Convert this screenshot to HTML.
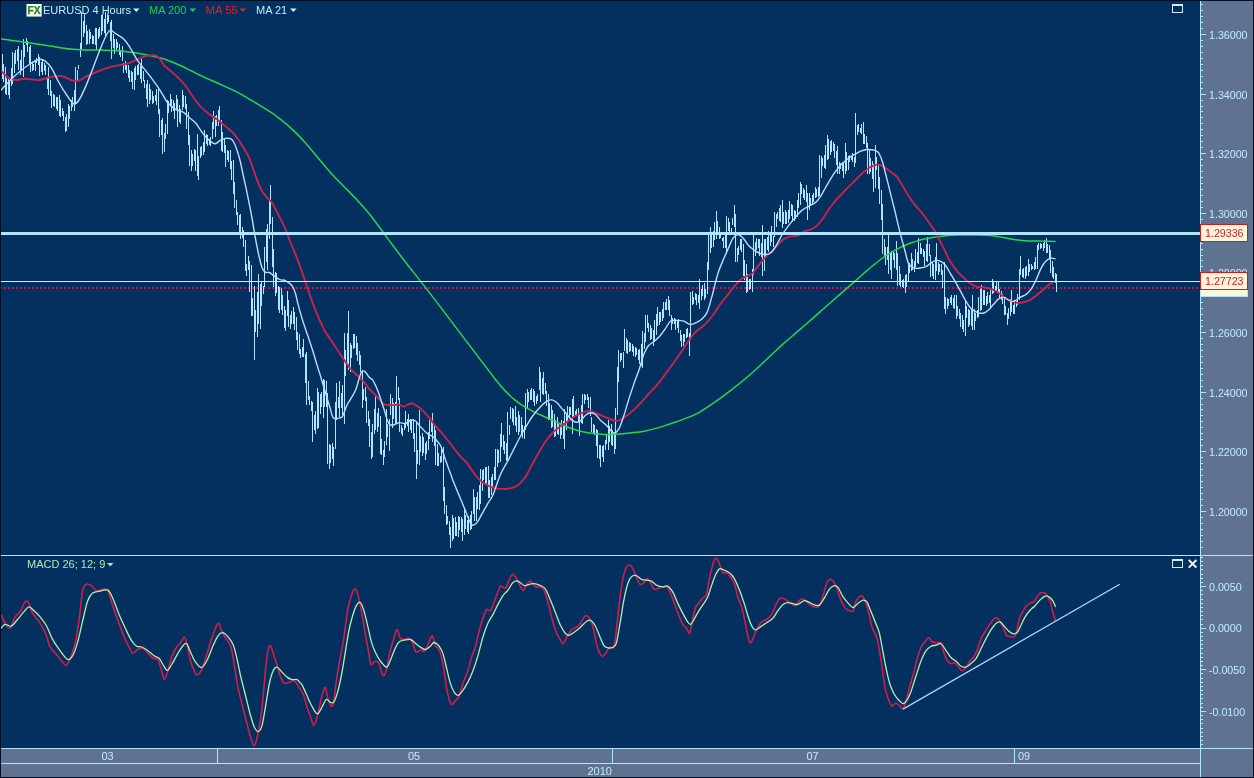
<!DOCTYPE html>
<html><head><meta charset="utf-8"><title>EURUSD 4 Hours</title>
<style>
html,body{margin:0;padding:0;background:#04305f;overflow:hidden}
body{width:1254px;height:778px;position:relative;font-family:"Liberation Sans",sans-serif}
</style></head><body>
<svg width="1254" height="778" viewBox="0 0 1254 778" style="position:absolute;left:0;top:0;display:block" font-family="'Liberation Sans', sans-serif">
<rect x="0" y="0" width="1254" height="778" fill="#000d2a"/>
<rect x="1" y="1" width="1199" height="747" fill="#04305f"/>
<rect x="1201" y="1" width="52" height="776" fill="#5f7391"/>
<rect x="1" y="749" width="1199" height="28" fill="#5f7391"/>
<defs><clipPath id="c1"><rect x="1" y="1" width="1199" height="554"/></clipPath><clipPath id="c2"><rect x="1" y="556" width="1199" height="192"/></clipPath></defs>
<g clip-path="url(#c1)">
<line x1="0" y1="288" x2="1200" y2="288" stroke="#c4104a" stroke-width="2.2" stroke-dasharray="2 2"/>
<g fill="#aee6ff" shape-rendering="crispEdges">
<rect x="2" y="54" width="1" height="25"/>
<rect x="3" y="64" width="1" height="18"/>
<rect x="5" y="67" width="1" height="27"/>
<rect x="6" y="78" width="1" height="17"/>
<rect x="8" y="79" width="1" height="16"/>
<rect x="9" y="82" width="1" height="17"/>
<rect x="11" y="68" width="1" height="18"/>
<rect x="12" y="52" width="1" height="32"/>
<rect x="14" y="53" width="1" height="20"/>
<rect x="15" y="50" width="1" height="14"/>
<rect x="17" y="49" width="1" height="12"/>
<rect x="18" y="46" width="1" height="24"/>
<rect x="20" y="60" width="1" height="15"/>
<rect x="21" y="50" width="1" height="21"/>
<rect x="23" y="39" width="1" height="38"/>
<rect x="24" y="45" width="1" height="12"/>
<rect x="26" y="38" width="1" height="7"/>
<rect x="27" y="41" width="1" height="11"/>
<rect x="29" y="47" width="1" height="17"/>
<rect x="30" y="45" width="1" height="27"/>
<rect x="32" y="63" width="1" height="8"/>
<rect x="33" y="64" width="1" height="6"/>
<rect x="35" y="60" width="1" height="11"/>
<rect x="36" y="58" width="1" height="5"/>
<rect x="38" y="54" width="1" height="11"/>
<rect x="39" y="57" width="1" height="19"/>
<rect x="41" y="62" width="1" height="10"/>
<rect x="42" y="59" width="1" height="16"/>
<rect x="44" y="63" width="1" height="8"/>
<rect x="45" y="65" width="1" height="10"/>
<rect x="47" y="77" width="1" height="12"/>
<rect x="48" y="67" width="1" height="28"/>
<rect x="50" y="80" width="1" height="16"/>
<rect x="51" y="91" width="1" height="17"/>
<rect x="53" y="94" width="1" height="12"/>
<rect x="54" y="95" width="1" height="12"/>
<rect x="56" y="97" width="1" height="12"/>
<rect x="57" y="97" width="1" height="14"/>
<rect x="59" y="95" width="1" height="21"/>
<rect x="60" y="100" width="1" height="17"/>
<rect x="62" y="108" width="1" height="8"/>
<rect x="63" y="111" width="1" height="10"/>
<rect x="65" y="117" width="1" height="15"/>
<rect x="66" y="114" width="1" height="17"/>
<rect x="68" y="104" width="1" height="23"/>
<rect x="69" y="106" width="1" height="13"/>
<rect x="71" y="100" width="1" height="11"/>
<rect x="72" y="97" width="1" height="10"/>
<rect x="74" y="90" width="1" height="21"/>
<rect x="75" y="67" width="1" height="37"/>
<rect x="77" y="70" width="1" height="10"/>
<rect x="78" y="65" width="1" height="4"/>
<rect x="80" y="43" width="1" height="14"/>
<rect x="81" y="12" width="1" height="37"/>
<rect x="83" y="21" width="1" height="16"/>
<rect x="84" y="13" width="1" height="20"/>
<rect x="86" y="25" width="1" height="20"/>
<rect x="87" y="31" width="1" height="13"/>
<rect x="89" y="29" width="1" height="15"/>
<rect x="90" y="32" width="1" height="7"/>
<rect x="92" y="35" width="1" height="9"/>
<rect x="93" y="36" width="1" height="8"/>
<rect x="95" y="28" width="1" height="17"/>
<rect x="96" y="28" width="1" height="22"/>
<rect x="98" y="29" width="1" height="10"/>
<rect x="99" y="27" width="1" height="10"/>
<rect x="101" y="15" width="1" height="20"/>
<rect x="102" y="14" width="1" height="17"/>
<rect x="104" y="19" width="1" height="14"/>
<rect x="105" y="12" width="1" height="24"/>
<rect x="107" y="14" width="1" height="10"/>
<rect x="108" y="15" width="1" height="7"/>
<rect x="110" y="22" width="1" height="19"/>
<rect x="111" y="20" width="1" height="39"/>
<rect x="113" y="34" width="1" height="14"/>
<rect x="114" y="39" width="1" height="15"/>
<rect x="116" y="39" width="1" height="11"/>
<rect x="117" y="42" width="1" height="6"/>
<rect x="119" y="44" width="1" height="11"/>
<rect x="120" y="50" width="1" height="7"/>
<rect x="122" y="46" width="1" height="15"/>
<rect x="123" y="63" width="1" height="10"/>
<rect x="125" y="61" width="1" height="9"/>
<rect x="126" y="65" width="1" height="8"/>
<rect x="128" y="65" width="1" height="13"/>
<rect x="129" y="70" width="1" height="12"/>
<rect x="131" y="71" width="1" height="11"/>
<rect x="132" y="72" width="1" height="17"/>
<rect x="134" y="68" width="1" height="22"/>
<rect x="135" y="66" width="1" height="14"/>
<rect x="137" y="65" width="1" height="10"/>
<rect x="138" y="64" width="1" height="11"/>
<rect x="140" y="66" width="1" height="13"/>
<rect x="141" y="59" width="1" height="24"/>
<rect x="143" y="71" width="1" height="10"/>
<rect x="144" y="80" width="1" height="8"/>
<rect x="146" y="84" width="1" height="15"/>
<rect x="147" y="80" width="1" height="27"/>
<rect x="149" y="84" width="1" height="20"/>
<rect x="150" y="89" width="1" height="11"/>
<rect x="152" y="91" width="1" height="13"/>
<rect x="153" y="96" width="1" height="7"/>
<rect x="155" y="95" width="1" height="6"/>
<rect x="156" y="89" width="1" height="16"/>
<rect x="158" y="88" width="1" height="26"/>
<rect x="159" y="109" width="1" height="28"/>
<rect x="161" y="120" width="1" height="15"/>
<rect x="162" y="118" width="1" height="36"/>
<rect x="164" y="133" width="1" height="19"/>
<rect x="165" y="124" width="1" height="15"/>
<rect x="167" y="100" width="1" height="34"/>
<rect x="168" y="101" width="1" height="12"/>
<rect x="170" y="94" width="1" height="12"/>
<rect x="171" y="99" width="1" height="13"/>
<rect x="173" y="100" width="1" height="11"/>
<rect x="174" y="103" width="1" height="16"/>
<rect x="176" y="95" width="1" height="14"/>
<rect x="177" y="99" width="1" height="28"/>
<rect x="179" y="105" width="1" height="17"/>
<rect x="180" y="109" width="1" height="15"/>
<rect x="182" y="90" width="1" height="20"/>
<rect x="183" y="95" width="1" height="12"/>
<rect x="185" y="96" width="1" height="13"/>
<rect x="186" y="104" width="1" height="25"/>
<rect x="188" y="112" width="1" height="33"/>
<rect x="189" y="135" width="1" height="31"/>
<rect x="191" y="150" width="1" height="21"/>
<rect x="192" y="154" width="1" height="12"/>
<rect x="194" y="149" width="1" height="12"/>
<rect x="195" y="150" width="1" height="21"/>
<rect x="197" y="134" width="1" height="42"/>
<rect x="198" y="156" width="1" height="24"/>
<rect x="200" y="147" width="1" height="11"/>
<rect x="201" y="146" width="1" height="10"/>
<rect x="203" y="142" width="1" height="13"/>
<rect x="204" y="130" width="1" height="22"/>
<rect x="206" y="134" width="1" height="10"/>
<rect x="207" y="135" width="1" height="11"/>
<rect x="209" y="139" width="1" height="6"/>
<rect x="210" y="137" width="1" height="9"/>
<rect x="212" y="122" width="1" height="17"/>
<rect x="213" y="111" width="1" height="18"/>
<rect x="215" y="116" width="1" height="21"/>
<rect x="216" y="115" width="1" height="11"/>
<rect x="218" y="110" width="1" height="16"/>
<rect x="219" y="106" width="1" height="16"/>
<rect x="221" y="120" width="1" height="31"/>
<rect x="222" y="132" width="1" height="20"/>
<rect x="224" y="139" width="1" height="14"/>
<rect x="225" y="145" width="1" height="22"/>
<rect x="227" y="150" width="1" height="10"/>
<rect x="228" y="151" width="1" height="11"/>
<rect x="230" y="150" width="1" height="19"/>
<rect x="231" y="161" width="1" height="19"/>
<rect x="233" y="160" width="1" height="34"/>
<rect x="234" y="182" width="1" height="26"/>
<rect x="236" y="200" width="1" height="15"/>
<rect x="237" y="212" width="1" height="13"/>
<rect x="239" y="215" width="1" height="17"/>
<rect x="240" y="214" width="1" height="25"/>
<rect x="242" y="227" width="1" height="11"/>
<rect x="243" y="230" width="1" height="17"/>
<rect x="245" y="240" width="1" height="31"/>
<rect x="246" y="264" width="1" height="12"/>
<rect x="248" y="256" width="1" height="14"/>
<rect x="249" y="261" width="1" height="31"/>
<rect x="251" y="265" width="1" height="51"/>
<rect x="252" y="298" width="1" height="18"/>
<rect x="254" y="286" width="1" height="74"/>
<rect x="255" y="310" width="1" height="22"/>
<rect x="257" y="292" width="1" height="45"/>
<rect x="258" y="274" width="1" height="50"/>
<rect x="260" y="284" width="1" height="45"/>
<rect x="261" y="282" width="1" height="24"/>
<rect x="263" y="286" width="1" height="8"/>
<rect x="264" y="247" width="1" height="40"/>
<rect x="266" y="229" width="1" height="33"/>
<rect x="267" y="224" width="1" height="46"/>
<rect x="269" y="200" width="1" height="39"/>
<rect x="270" y="185" width="1" height="39"/>
<rect x="272" y="217" width="1" height="50"/>
<rect x="273" y="249" width="1" height="38"/>
<rect x="275" y="272" width="1" height="24"/>
<rect x="276" y="273" width="1" height="20"/>
<rect x="278" y="286" width="1" height="24"/>
<rect x="279" y="287" width="1" height="26"/>
<rect x="281" y="288" width="1" height="22"/>
<rect x="282" y="295" width="1" height="20"/>
<rect x="284" y="306" width="1" height="22"/>
<rect x="285" y="310" width="1" height="21"/>
<rect x="287" y="291" width="1" height="25"/>
<rect x="288" y="300" width="1" height="27"/>
<rect x="290" y="315" width="1" height="14"/>
<rect x="291" y="311" width="1" height="13"/>
<rect x="293" y="307" width="1" height="17"/>
<rect x="294" y="312" width="1" height="18"/>
<rect x="296" y="317" width="1" height="23"/>
<rect x="297" y="332" width="1" height="18"/>
<rect x="299" y="334" width="1" height="20"/>
<rect x="300" y="349" width="1" height="9"/>
<rect x="302" y="347" width="1" height="10"/>
<rect x="303" y="339" width="1" height="18"/>
<rect x="305" y="354" width="1" height="29"/>
<rect x="306" y="352" width="1" height="53"/>
<rect x="308" y="381" width="1" height="19"/>
<rect x="309" y="396" width="1" height="9"/>
<rect x="311" y="401" width="1" height="10"/>
<rect x="312" y="402" width="1" height="40"/>
<rect x="314" y="415" width="1" height="15"/>
<rect x="315" y="411" width="1" height="23"/>
<rect x="317" y="388" width="1" height="41"/>
<rect x="318" y="392" width="1" height="36"/>
<rect x="320" y="394" width="1" height="20"/>
<rect x="321" y="392" width="1" height="15"/>
<rect x="323" y="379" width="1" height="39"/>
<rect x="324" y="380" width="1" height="27"/>
<rect x="326" y="381" width="1" height="26"/>
<rect x="327" y="393" width="1" height="71"/>
<rect x="329" y="444" width="1" height="25"/>
<rect x="330" y="445" width="1" height="18"/>
<rect x="332" y="443" width="1" height="16"/>
<rect x="333" y="447" width="1" height="19"/>
<rect x="335" y="402" width="1" height="47"/>
<rect x="336" y="383" width="1" height="37"/>
<rect x="338" y="397" width="1" height="11"/>
<rect x="339" y="381" width="1" height="36"/>
<rect x="341" y="393" width="1" height="15"/>
<rect x="342" y="385" width="1" height="31"/>
<rect x="344" y="333" width="1" height="91"/>
<rect x="345" y="350" width="1" height="26"/>
<rect x="347" y="333" width="1" height="31"/>
<rect x="348" y="311" width="1" height="59"/>
<rect x="350" y="343" width="1" height="29"/>
<rect x="351" y="345" width="1" height="13"/>
<rect x="353" y="334" width="1" height="15"/>
<rect x="354" y="334" width="1" height="14"/>
<rect x="356" y="336" width="1" height="19"/>
<rect x="357" y="343" width="1" height="18"/>
<rect x="359" y="351" width="1" height="14"/>
<rect x="360" y="355" width="1" height="17"/>
<rect x="362" y="370" width="1" height="38"/>
<rect x="363" y="389" width="1" height="11"/>
<rect x="365" y="387" width="1" height="14"/>
<rect x="366" y="397" width="1" height="26"/>
<rect x="368" y="411" width="1" height="15"/>
<rect x="369" y="419" width="1" height="28"/>
<rect x="371" y="432" width="1" height="27"/>
<rect x="372" y="424" width="1" height="33"/>
<rect x="374" y="409" width="1" height="25"/>
<rect x="375" y="395" width="1" height="35"/>
<rect x="377" y="413" width="1" height="19"/>
<rect x="378" y="408" width="1" height="19"/>
<rect x="380" y="416" width="1" height="38"/>
<rect x="381" y="439" width="1" height="16"/>
<rect x="383" y="450" width="1" height="15"/>
<rect x="384" y="441" width="1" height="16"/>
<rect x="386" y="409" width="1" height="36"/>
<rect x="387" y="424" width="1" height="13"/>
<rect x="389" y="419" width="1" height="32"/>
<rect x="390" y="394" width="1" height="21"/>
<rect x="392" y="398" width="1" height="30"/>
<rect x="393" y="403" width="1" height="16"/>
<rect x="395" y="402" width="1" height="22"/>
<rect x="396" y="376" width="1" height="47"/>
<rect x="398" y="387" width="1" height="13"/>
<rect x="399" y="398" width="1" height="34"/>
<rect x="401" y="425" width="1" height="9"/>
<rect x="402" y="428" width="1" height="8"/>
<rect x="404" y="423" width="1" height="7"/>
<rect x="405" y="411" width="1" height="17"/>
<rect x="407" y="419" width="1" height="7"/>
<rect x="408" y="414" width="1" height="18"/>
<rect x="410" y="419" width="1" height="11"/>
<rect x="411" y="420" width="1" height="13"/>
<rect x="413" y="419" width="1" height="20"/>
<rect x="414" y="433" width="1" height="19"/>
<rect x="416" y="422" width="1" height="57"/>
<rect x="417" y="450" width="1" height="14"/>
<rect x="419" y="410" width="1" height="55"/>
<rect x="420" y="436" width="1" height="16"/>
<rect x="422" y="433" width="1" height="23"/>
<rect x="423" y="437" width="1" height="16"/>
<rect x="425" y="443" width="1" height="17"/>
<rect x="426" y="441" width="1" height="13"/>
<rect x="428" y="432" width="1" height="18"/>
<rect x="429" y="420" width="1" height="19"/>
<rect x="431" y="420" width="1" height="12"/>
<rect x="432" y="413" width="1" height="29"/>
<rect x="434" y="424" width="1" height="22"/>
<rect x="435" y="430" width="1" height="35"/>
<rect x="437" y="444" width="1" height="22"/>
<rect x="438" y="453" width="1" height="13"/>
<rect x="440" y="456" width="1" height="7"/>
<rect x="441" y="447" width="1" height="15"/>
<rect x="443" y="447" width="1" height="54"/>
<rect x="444" y="487" width="1" height="27"/>
<rect x="446" y="505" width="1" height="20"/>
<rect x="447" y="516" width="1" height="8"/>
<rect x="449" y="521" width="1" height="14"/>
<rect x="450" y="527" width="1" height="21"/>
<rect x="452" y="515" width="1" height="26"/>
<rect x="453" y="518" width="1" height="21"/>
<rect x="455" y="517" width="1" height="19"/>
<rect x="456" y="522" width="1" height="14"/>
<rect x="458" y="516" width="1" height="21"/>
<rect x="459" y="517" width="1" height="13"/>
<rect x="461" y="517" width="1" height="15"/>
<rect x="462" y="519" width="1" height="22"/>
<rect x="464" y="509" width="1" height="26"/>
<rect x="465" y="515" width="1" height="14"/>
<rect x="467" y="520" width="1" height="12"/>
<rect x="468" y="516" width="1" height="18"/>
<rect x="470" y="515" width="1" height="15"/>
<rect x="471" y="511" width="1" height="18"/>
<rect x="473" y="489" width="1" height="25"/>
<rect x="474" y="497" width="1" height="24"/>
<rect x="476" y="497" width="1" height="24"/>
<rect x="477" y="492" width="1" height="17"/>
<rect x="479" y="485" width="1" height="25"/>
<rect x="480" y="469" width="1" height="35"/>
<rect x="482" y="470" width="1" height="21"/>
<rect x="483" y="469" width="1" height="11"/>
<rect x="485" y="467" width="1" height="17"/>
<rect x="486" y="467" width="1" height="18"/>
<rect x="488" y="466" width="1" height="32"/>
<rect x="489" y="480" width="1" height="18"/>
<rect x="491" y="477" width="1" height="18"/>
<rect x="492" y="474" width="1" height="14"/>
<rect x="494" y="467" width="1" height="13"/>
<rect x="495" y="449" width="1" height="31"/>
<rect x="497" y="449" width="1" height="18"/>
<rect x="498" y="450" width="1" height="13"/>
<rect x="500" y="434" width="1" height="28"/>
<rect x="501" y="423" width="1" height="24"/>
<rect x="503" y="435" width="1" height="15"/>
<rect x="504" y="441" width="1" height="13"/>
<rect x="506" y="443" width="1" height="18"/>
<rect x="507" y="412" width="1" height="48"/>
<rect x="509" y="425" width="1" height="10"/>
<rect x="510" y="407" width="1" height="12"/>
<rect x="512" y="408" width="1" height="14"/>
<rect x="513" y="409" width="1" height="16"/>
<rect x="515" y="406" width="1" height="20"/>
<rect x="516" y="417" width="1" height="15"/>
<rect x="518" y="411" width="1" height="24"/>
<rect x="519" y="415" width="1" height="17"/>
<rect x="521" y="417" width="1" height="17"/>
<rect x="522" y="425" width="1" height="13"/>
<rect x="524" y="426" width="1" height="13"/>
<rect x="525" y="393" width="1" height="37"/>
<rect x="527" y="389" width="1" height="20"/>
<rect x="528" y="392" width="1" height="10"/>
<rect x="530" y="390" width="1" height="10"/>
<rect x="531" y="388" width="1" height="12"/>
<rect x="533" y="389" width="1" height="13"/>
<rect x="534" y="391" width="1" height="15"/>
<rect x="536" y="396" width="1" height="8"/>
<rect x="537" y="394" width="1" height="7"/>
<rect x="539" y="367" width="1" height="23"/>
<rect x="540" y="372" width="1" height="30"/>
<rect x="542" y="378" width="1" height="16"/>
<rect x="543" y="372" width="1" height="23"/>
<rect x="545" y="383" width="1" height="11"/>
<rect x="546" y="391" width="1" height="15"/>
<rect x="548" y="394" width="1" height="26"/>
<rect x="549" y="403" width="1" height="17"/>
<rect x="551" y="405" width="1" height="23"/>
<rect x="552" y="410" width="1" height="17"/>
<rect x="554" y="414" width="1" height="23"/>
<rect x="555" y="420" width="1" height="16"/>
<rect x="557" y="417" width="1" height="17"/>
<rect x="558" y="424" width="1" height="11"/>
<rect x="560" y="423" width="1" height="16"/>
<rect x="561" y="420" width="1" height="15"/>
<rect x="563" y="421" width="1" height="18"/>
<rect x="564" y="409" width="1" height="40"/>
<rect x="566" y="414" width="1" height="16"/>
<rect x="567" y="406" width="1" height="16"/>
<rect x="569" y="407" width="1" height="11"/>
<rect x="570" y="407" width="1" height="8"/>
<rect x="572" y="399" width="1" height="35"/>
<rect x="573" y="396" width="1" height="20"/>
<rect x="575" y="411" width="1" height="5"/>
<rect x="576" y="409" width="1" height="7"/>
<rect x="578" y="408" width="1" height="14"/>
<rect x="579" y="414" width="1" height="22"/>
<rect x="581" y="405" width="1" height="18"/>
<rect x="582" y="394" width="1" height="30"/>
<rect x="584" y="394" width="1" height="10"/>
<rect x="585" y="395" width="1" height="5"/>
<rect x="587" y="394" width="1" height="6"/>
<rect x="588" y="397" width="1" height="11"/>
<rect x="590" y="397" width="1" height="19"/>
<rect x="591" y="417" width="1" height="15"/>
<rect x="593" y="424" width="1" height="9"/>
<rect x="594" y="425" width="1" height="10"/>
<rect x="596" y="429" width="1" height="17"/>
<rect x="597" y="430" width="1" height="28"/>
<rect x="599" y="445" width="1" height="14"/>
<rect x="600" y="445" width="1" height="22"/>
<rect x="602" y="446" width="1" height="11"/>
<rect x="603" y="445" width="1" height="17"/>
<rect x="605" y="440" width="1" height="10"/>
<rect x="606" y="434" width="1" height="10"/>
<rect x="608" y="420" width="1" height="30"/>
<rect x="609" y="426" width="1" height="16"/>
<rect x="611" y="424" width="1" height="21"/>
<rect x="612" y="430" width="1" height="16"/>
<rect x="614" y="435" width="1" height="19"/>
<rect x="615" y="408" width="1" height="41"/>
<rect x="617" y="367" width="1" height="48"/>
<rect x="618" y="350" width="1" height="32"/>
<rect x="620" y="353" width="1" height="9"/>
<rect x="621" y="353" width="1" height="7"/>
<rect x="623" y="352" width="1" height="16"/>
<rect x="624" y="329" width="1" height="22"/>
<rect x="626" y="338" width="1" height="15"/>
<rect x="627" y="340" width="1" height="14"/>
<rect x="629" y="342" width="1" height="10"/>
<rect x="630" y="343" width="1" height="8"/>
<rect x="632" y="344" width="1" height="8"/>
<rect x="633" y="346" width="1" height="10"/>
<rect x="635" y="347" width="1" height="10"/>
<rect x="636" y="348" width="1" height="7"/>
<rect x="638" y="350" width="1" height="10"/>
<rect x="639" y="349" width="1" height="15"/>
<rect x="641" y="344" width="1" height="22"/>
<rect x="642" y="331" width="1" height="37"/>
<rect x="644" y="333" width="1" height="16"/>
<rect x="645" y="315" width="1" height="27"/>
<rect x="647" y="315" width="1" height="13"/>
<rect x="648" y="323" width="1" height="9"/>
<rect x="650" y="325" width="1" height="15"/>
<rect x="651" y="328" width="1" height="11"/>
<rect x="653" y="330" width="1" height="16"/>
<rect x="654" y="320" width="1" height="22"/>
<rect x="656" y="314" width="1" height="21"/>
<rect x="657" y="307" width="1" height="19"/>
<rect x="659" y="312" width="1" height="13"/>
<rect x="660" y="312" width="1" height="10"/>
<rect x="662" y="309" width="1" height="12"/>
<rect x="663" y="302" width="1" height="16"/>
<rect x="665" y="302" width="1" height="8"/>
<rect x="666" y="299" width="1" height="11"/>
<rect x="668" y="296" width="1" height="14"/>
<rect x="669" y="300" width="1" height="16"/>
<rect x="671" y="315" width="1" height="15"/>
<rect x="672" y="318" width="1" height="6"/>
<rect x="674" y="318" width="1" height="6"/>
<rect x="675" y="319" width="1" height="11"/>
<rect x="677" y="320" width="1" height="8"/>
<rect x="678" y="319" width="1" height="14"/>
<rect x="680" y="330" width="1" height="11"/>
<rect x="681" y="335" width="1" height="12"/>
<rect x="683" y="334" width="1" height="12"/>
<rect x="684" y="334" width="1" height="8"/>
<rect x="686" y="329" width="1" height="9"/>
<rect x="687" y="328" width="1" height="9"/>
<rect x="689" y="333" width="1" height="23"/>
<rect x="690" y="292" width="1" height="48"/>
<rect x="692" y="291" width="1" height="14"/>
<rect x="693" y="297" width="1" height="7"/>
<rect x="695" y="293" width="1" height="7"/>
<rect x="696" y="294" width="1" height="11"/>
<rect x="698" y="295" width="1" height="8"/>
<rect x="699" y="279" width="1" height="30"/>
<rect x="701" y="289" width="1" height="11"/>
<rect x="702" y="285" width="1" height="11"/>
<rect x="704" y="283" width="1" height="17"/>
<rect x="705" y="289" width="1" height="9"/>
<rect x="707" y="262" width="1" height="32"/>
<rect x="708" y="233" width="1" height="37"/>
<rect x="710" y="227" width="1" height="26"/>
<rect x="711" y="233" width="1" height="15"/>
<rect x="713" y="231" width="1" height="16"/>
<rect x="714" y="222" width="1" height="18"/>
<rect x="716" y="211" width="1" height="28"/>
<rect x="717" y="221" width="1" height="11"/>
<rect x="719" y="227" width="1" height="12"/>
<rect x="720" y="234" width="1" height="4"/>
<rect x="722" y="238" width="1" height="3"/>
<rect x="723" y="237" width="1" height="11"/>
<rect x="725" y="233" width="1" height="15"/>
<rect x="726" y="216" width="1" height="38"/>
<rect x="728" y="218" width="1" height="13"/>
<rect x="729" y="222" width="1" height="10"/>
<rect x="731" y="228" width="1" height="7"/>
<rect x="732" y="218" width="1" height="7"/>
<rect x="734" y="205" width="1" height="22"/>
<rect x="735" y="214" width="1" height="48"/>
<rect x="737" y="248" width="1" height="14"/>
<rect x="738" y="246" width="1" height="9"/>
<rect x="740" y="239" width="1" height="11"/>
<rect x="741" y="239" width="1" height="13"/>
<rect x="743" y="244" width="1" height="32"/>
<rect x="744" y="260" width="1" height="20"/>
<rect x="746" y="264" width="1" height="29"/>
<rect x="747" y="274" width="1" height="18"/>
<rect x="749" y="279" width="1" height="11"/>
<rect x="750" y="279" width="1" height="10"/>
<rect x="752" y="269" width="1" height="23"/>
<rect x="753" y="235" width="1" height="40"/>
<rect x="755" y="242" width="1" height="14"/>
<rect x="756" y="238" width="1" height="12"/>
<rect x="758" y="239" width="1" height="9"/>
<rect x="759" y="239" width="1" height="17"/>
<rect x="761" y="243" width="1" height="14"/>
<rect x="762" y="225" width="1" height="51"/>
<rect x="764" y="239" width="1" height="32"/>
<rect x="765" y="239" width="1" height="18"/>
<rect x="767" y="237" width="1" height="13"/>
<rect x="768" y="231" width="1" height="21"/>
<rect x="770" y="232" width="1" height="14"/>
<rect x="771" y="226" width="1" height="16"/>
<rect x="773" y="236" width="1" height="11"/>
<rect x="774" y="212" width="1" height="25"/>
<rect x="776" y="214" width="1" height="13"/>
<rect x="777" y="212" width="1" height="7"/>
<rect x="779" y="208" width="1" height="13"/>
<rect x="780" y="205" width="1" height="17"/>
<rect x="782" y="200" width="1" height="28"/>
<rect x="783" y="212" width="1" height="12"/>
<rect x="785" y="210" width="1" height="14"/>
<rect x="786" y="212" width="1" height="12"/>
<rect x="788" y="210" width="1" height="13"/>
<rect x="789" y="201" width="1" height="18"/>
<rect x="791" y="204" width="1" height="12"/>
<rect x="792" y="205" width="1" height="17"/>
<rect x="794" y="210" width="1" height="11"/>
<rect x="795" y="211" width="1" height="8"/>
<rect x="797" y="200" width="1" height="17"/>
<rect x="798" y="193" width="1" height="15"/>
<rect x="800" y="182" width="1" height="23"/>
<rect x="801" y="184" width="1" height="10"/>
<rect x="803" y="188" width="1" height="10"/>
<rect x="804" y="190" width="1" height="10"/>
<rect x="806" y="185" width="1" height="17"/>
<rect x="807" y="193" width="1" height="27"/>
<rect x="809" y="193" width="1" height="17"/>
<rect x="810" y="198" width="1" height="8"/>
<rect x="812" y="195" width="1" height="9"/>
<rect x="813" y="193" width="1" height="9"/>
<rect x="815" y="187" width="1" height="11"/>
<rect x="816" y="189" width="1" height="8"/>
<rect x="818" y="187" width="1" height="10"/>
<rect x="819" y="155" width="1" height="41"/>
<rect x="821" y="156" width="1" height="22"/>
<rect x="822" y="158" width="1" height="8"/>
<rect x="824" y="155" width="1" height="13"/>
<rect x="825" y="145" width="1" height="24"/>
<rect x="827" y="135" width="1" height="25"/>
<rect x="828" y="139" width="1" height="20"/>
<rect x="830" y="141" width="1" height="14"/>
<rect x="831" y="140" width="1" height="12"/>
<rect x="833" y="142" width="1" height="9"/>
<rect x="834" y="144" width="1" height="14"/>
<rect x="836" y="151" width="1" height="14"/>
<rect x="837" y="146" width="1" height="28"/>
<rect x="839" y="162" width="1" height="12"/>
<rect x="840" y="163" width="1" height="6"/>
<rect x="842" y="162" width="1" height="9"/>
<rect x="843" y="162" width="1" height="16"/>
<rect x="845" y="143" width="1" height="31"/>
<rect x="846" y="152" width="1" height="19"/>
<rect x="848" y="156" width="1" height="14"/>
<rect x="849" y="155" width="1" height="7"/>
<rect x="851" y="156" width="1" height="4"/>
<rect x="852" y="153" width="1" height="9"/>
<rect x="854" y="157" width="1" height="10"/>
<rect x="855" y="113" width="1" height="50"/>
<rect x="857" y="125" width="1" height="10"/>
<rect x="858" y="124" width="1" height="8"/>
<rect x="860" y="128" width="1" height="5"/>
<rect x="861" y="124" width="1" height="10"/>
<rect x="863" y="122" width="1" height="22"/>
<rect x="864" y="134" width="1" height="10"/>
<rect x="866" y="136" width="1" height="12"/>
<rect x="867" y="143" width="1" height="31"/>
<rect x="869" y="149" width="1" height="25"/>
<rect x="870" y="158" width="1" height="14"/>
<rect x="872" y="161" width="1" height="18"/>
<rect x="873" y="164" width="1" height="28"/>
<rect x="875" y="145" width="1" height="43"/>
<rect x="876" y="157" width="1" height="13"/>
<rect x="878" y="165" width="1" height="24"/>
<rect x="879" y="177" width="1" height="27"/>
<rect x="881" y="190" width="1" height="30"/>
<rect x="882" y="204" width="1" height="50"/>
<rect x="884" y="239" width="1" height="17"/>
<rect x="885" y="247" width="1" height="18"/>
<rect x="887" y="247" width="1" height="13"/>
<rect x="888" y="235" width="1" height="39"/>
<rect x="890" y="252" width="1" height="18"/>
<rect x="891" y="251" width="1" height="28"/>
<rect x="893" y="252" width="1" height="8"/>
<rect x="894" y="253" width="1" height="15"/>
<rect x="896" y="241" width="1" height="29"/>
<rect x="897" y="253" width="1" height="33"/>
<rect x="899" y="266" width="1" height="19"/>
<rect x="900" y="274" width="1" height="13"/>
<rect x="902" y="280" width="1" height="7"/>
<rect x="903" y="279" width="1" height="9"/>
<rect x="905" y="275" width="1" height="18"/>
<rect x="906" y="274" width="1" height="13"/>
<rect x="908" y="262" width="1" height="19"/>
<rect x="909" y="263" width="1" height="10"/>
<rect x="911" y="253" width="1" height="18"/>
<rect x="912" y="259" width="1" height="11"/>
<rect x="914" y="261" width="1" height="11"/>
<rect x="915" y="249" width="1" height="18"/>
<rect x="917" y="252" width="1" height="11"/>
<rect x="918" y="238" width="1" height="26"/>
<rect x="920" y="243" width="1" height="11"/>
<rect x="921" y="248" width="1" height="6"/>
<rect x="923" y="249" width="1" height="8"/>
<rect x="924" y="251" width="1" height="15"/>
<rect x="926" y="244" width="1" height="17"/>
<rect x="927" y="237" width="1" height="25"/>
<rect x="929" y="244" width="1" height="12"/>
<rect x="930" y="255" width="1" height="22"/>
<rect x="932" y="263" width="1" height="13"/>
<rect x="933" y="264" width="1" height="15"/>
<rect x="935" y="257" width="1" height="23"/>
<rect x="936" y="243" width="1" height="28"/>
<rect x="938" y="262" width="1" height="13"/>
<rect x="939" y="264" width="1" height="8"/>
<rect x="941" y="264" width="1" height="11"/>
<rect x="942" y="270" width="1" height="18"/>
<rect x="944" y="262" width="1" height="47"/>
<rect x="945" y="297" width="1" height="17"/>
<rect x="947" y="298" width="1" height="11"/>
<rect x="948" y="299" width="1" height="7"/>
<rect x="950" y="297" width="1" height="6"/>
<rect x="951" y="295" width="1" height="10"/>
<rect x="953" y="298" width="1" height="10"/>
<rect x="954" y="295" width="1" height="14"/>
<rect x="956" y="295" width="1" height="24"/>
<rect x="957" y="306" width="1" height="10"/>
<rect x="959" y="309" width="1" height="10"/>
<rect x="960" y="313" width="1" height="14"/>
<rect x="962" y="315" width="1" height="14"/>
<rect x="963" y="320" width="1" height="12"/>
<rect x="965" y="300" width="1" height="36"/>
<rect x="966" y="306" width="1" height="12"/>
<rect x="968" y="309" width="1" height="18"/>
<rect x="969" y="310" width="1" height="15"/>
<rect x="971" y="309" width="1" height="17"/>
<rect x="972" y="295" width="1" height="35"/>
<rect x="974" y="309" width="1" height="21"/>
<rect x="975" y="313" width="1" height="8"/>
<rect x="977" y="310" width="1" height="8"/>
<rect x="978" y="297" width="1" height="20"/>
<rect x="980" y="289" width="1" height="22"/>
<rect x="981" y="285" width="1" height="25"/>
<rect x="983" y="290" width="1" height="15"/>
<rect x="984" y="290" width="1" height="15"/>
<rect x="986" y="296" width="1" height="10"/>
<rect x="987" y="292" width="1" height="12"/>
<rect x="989" y="295" width="1" height="8"/>
<rect x="990" y="290" width="1" height="19"/>
<rect x="992" y="279" width="1" height="15"/>
<rect x="993" y="282" width="1" height="11"/>
<rect x="995" y="286" width="1" height="6"/>
<rect x="996" y="282" width="1" height="9"/>
<rect x="998" y="282" width="1" height="12"/>
<rect x="999" y="289" width="1" height="10"/>
<rect x="1001" y="291" width="1" height="9"/>
<rect x="1002" y="294" width="1" height="10"/>
<rect x="1004" y="298" width="1" height="17"/>
<rect x="1005" y="306" width="1" height="9"/>
<rect x="1007" y="313" width="1" height="12"/>
<rect x="1008" y="308" width="1" height="11"/>
<rect x="1010" y="299" width="1" height="17"/>
<rect x="1011" y="290" width="1" height="22"/>
<rect x="1013" y="305" width="1" height="9"/>
<rect x="1014" y="300" width="1" height="14"/>
<rect x="1016" y="301" width="1" height="6"/>
<rect x="1017" y="294" width="1" height="11"/>
<rect x="1019" y="269" width="1" height="31"/>
<rect x="1020" y="256" width="1" height="19"/>
<rect x="1022" y="269" width="1" height="8"/>
<rect x="1023" y="268" width="1" height="10"/>
<rect x="1025" y="267" width="1" height="12"/>
<rect x="1026" y="266" width="1" height="10"/>
<rect x="1028" y="259" width="1" height="17"/>
<rect x="1029" y="264" width="1" height="8"/>
<rect x="1031" y="264" width="1" height="6"/>
<rect x="1032" y="266" width="1" height="3"/>
<rect x="1034" y="262" width="1" height="8"/>
<rect x="1035" y="257" width="1" height="12"/>
<rect x="1037" y="245" width="1" height="24"/>
<rect x="1038" y="243" width="1" height="7"/>
<rect x="1040" y="243" width="1" height="6"/>
<rect x="1041" y="244" width="1" height="4"/>
<rect x="1043" y="243" width="1" height="8"/>
<rect x="1044" y="240" width="1" height="8"/>
<rect x="1046" y="238" width="1" height="15"/>
<rect x="1047" y="244" width="1" height="9"/>
<rect x="1049" y="245" width="1" height="13"/>
<rect x="1050" y="250" width="1" height="23"/>
<rect x="1052" y="261" width="1" height="16"/>
<rect x="1053" y="267" width="1" height="12"/>
<rect x="1055" y="273" width="1" height="10"/>
<rect x="1056" y="274" width="1" height="18"/>
</g>
<path d="M0.0 38.9C2.8 39.2 11.1 40.3 16.7 41.1C22.3 41.8 27.9 42.6 33.5 43.5C39.1 44.3 45.5 45.3 50.2 46.1C55.0 46.8 58.1 47.4 62.0 47.9C65.9 48.5 69.5 49.0 73.7 49.3C77.9 49.6 82.6 49.8 87.1 50.0C91.6 50.1 96.0 50.0 100.5 50.1C105.0 50.2 109.4 50.2 113.9 50.5C118.4 50.8 122.8 51.1 127.3 51.7C131.8 52.2 136.2 52.9 140.7 53.7C145.2 54.5 150.3 55.6 154.1 56.5C157.9 57.3 161.2 58.2 163.4 58.8C165.6 59.5 165.6 59.5 167.5 60.2C169.4 60.9 172.9 62.3 175.1 63.2C177.3 64.1 178.9 64.8 180.9 65.7C182.9 66.6 184.6 67.5 186.8 68.6C189.0 69.7 192.3 71.4 194.3 72.4C196.3 73.4 196.0 73.3 198.6 74.5C201.2 75.7 206.1 78.0 210.0 79.8C213.9 81.5 218.1 83.3 222.0 85.1C225.9 86.8 230.1 88.7 233.7 90.4C237.3 92.2 240.5 93.9 243.8 95.8C247.2 97.7 250.5 99.7 253.8 101.7C257.1 103.7 261.1 106.2 263.9 107.9C266.7 109.6 268.4 110.6 270.6 112.1C272.8 113.6 274.5 114.7 277.3 116.8C280.1 118.9 284.0 122.0 287.3 124.9C290.6 127.9 294.0 131.0 297.4 134.4C300.8 137.7 304.0 141.4 307.4 145.2C310.8 149.0 314.2 153.2 317.5 157.2C320.8 161.1 324.2 165.3 327.2 168.8C330.2 172.3 332.4 174.7 335.5 178.0C338.6 181.2 342.0 184.5 345.6 188.2C349.2 191.9 353.7 196.3 357.3 200.2C360.9 204.1 364.3 207.9 367.4 211.6C370.5 215.3 372.9 218.5 375.7 222.2C378.5 225.8 381.3 229.8 384.1 233.6C386.9 237.4 389.4 240.9 392.5 245.0C395.6 249.1 399.6 254.4 402.5 258.2C405.4 262.0 407.3 264.4 410.1 268.0C412.9 271.5 416.7 276.3 419.3 279.6C421.9 283.0 423.4 284.8 426.0 288.2C428.6 291.6 424.3 285.9 435.0 299.9C445.7 313.9 480.0 359.2 490.0 372.4C500.0 385.7 493.5 377.1 495.2 379.2C496.9 381.3 498.1 382.8 500.0 385.0C501.9 387.3 504.2 389.9 506.7 392.4C509.2 394.9 512.3 397.9 515.1 400.2C517.9 402.5 520.4 404.3 523.5 406.2C526.6 408.1 530.1 409.9 533.5 411.6C536.9 413.3 540.2 414.8 543.6 416.3C547.0 417.8 550.3 419.4 553.6 420.9C556.9 422.3 560.4 424.0 563.3 425.2C566.2 426.5 568.1 427.3 570.8 428.2C573.4 429.2 577.0 430.2 579.2 430.9C581.4 431.5 581.4 431.5 583.8 431.9C586.2 432.3 590.4 433.0 593.8 433.4C597.1 433.9 601.2 434.3 603.9 434.5C606.6 434.6 606.6 434.7 610.0 434.5C613.4 434.4 620.0 433.9 624.0 433.6C628.0 433.2 630.6 433.0 634.0 432.6C637.4 432.2 640.8 431.8 644.1 431.2C647.5 430.5 650.8 429.8 654.1 428.9C657.5 428.0 660.9 427.0 664.2 425.9C667.6 424.8 670.9 423.7 674.2 422.5C677.6 421.4 681.2 420.1 684.3 418.9C687.4 417.8 690.0 416.8 692.6 415.6C695.2 414.4 696.3 414.0 700.0 411.8C703.7 409.6 709.0 406.3 714.8 402.2C720.6 398.2 728.6 392.2 734.9 387.2C741.2 382.3 747.9 376.5 752.5 372.5C757.1 368.5 759.2 366.4 762.5 363.2C765.8 360.1 769.1 356.9 772.5 353.7C775.9 350.6 779.2 347.4 782.6 344.4C786.0 341.4 789.7 338.2 792.6 335.7C795.5 333.2 797.5 331.5 800.0 329.4C802.5 327.3 804.1 325.9 807.4 323.0C810.7 320.1 816.6 314.9 820.0 311.9C823.4 308.9 822.9 309.3 827.5 305.3C832.1 301.2 842.2 292.4 847.6 287.6C853.0 282.9 856.7 279.7 860.0 276.8C863.3 273.8 865.1 272.2 867.5 270.2C869.9 268.1 871.7 266.5 874.2 264.5C876.7 262.5 879.8 260.0 882.6 258.0C885.4 256.0 888.1 254.1 891.0 252.4C893.9 250.7 896.8 249.1 900.0 247.6C903.2 246.1 907.1 244.5 910.2 243.3C913.3 242.1 915.8 241.4 918.6 240.5C921.4 239.7 924.2 239.1 927.0 238.4C929.8 237.8 932.6 237.3 935.4 236.9C938.2 236.5 940.6 236.2 943.7 235.9C946.8 235.6 950.4 235.4 953.8 235.2C957.1 235.1 959.9 235.0 963.8 234.9C967.7 234.9 972.7 234.9 977.2 235.0C981.7 235.1 987.0 235.3 990.6 235.6C994.2 235.9 996.2 236.2 999.0 236.7C1001.8 237.1 1004.6 237.7 1007.4 238.2C1010.2 238.8 1013.0 239.4 1015.8 239.8C1018.6 240.2 1021.3 240.5 1024.1 240.7C1026.9 240.9 1029.7 241.0 1032.5 241.0C1035.3 241.1 1038.1 241.0 1040.9 241.1C1043.7 241.1 1046.8 241.2 1049.2 241.2C1051.7 241.3 1054.5 241.4 1055.6 241.5" fill="none" stroke="#24d84e" stroke-width="1.5" stroke-linejoin="round"/>
<path d="M0.0 69.5C1.1 70.6 4.2 74.4 6.7 76.2C9.2 78.0 12.0 79.6 15.1 80.0C18.2 80.5 21.2 78.7 25.1 78.7C29.0 78.7 34.3 80.3 38.5 80.1C42.7 79.8 46.3 77.7 50.2 77.1C54.1 76.4 58.4 75.7 62.0 76.2C65.6 76.8 69.2 79.6 72.0 80.4C74.8 81.1 76.2 81.4 78.7 80.7C81.2 80.0 83.5 77.9 87.1 76.2C90.7 74.5 96.0 72.0 100.5 70.3C105.0 68.7 109.4 67.3 113.9 66.2C118.4 65.0 123.4 64.7 127.3 63.6C131.2 62.5 134.2 60.7 137.3 59.5C140.4 58.2 142.9 56.8 145.7 56.1C148.5 55.4 151.9 55.0 154.1 55.3C156.3 55.6 157.4 56.1 159.1 57.8C160.8 59.5 162.8 63.7 164.1 65.3C165.4 67.0 165.0 66.3 166.7 67.8C168.4 69.2 171.4 71.5 174.2 74.0C177.0 76.6 180.6 79.7 183.5 83.2C186.4 86.8 190.1 92.7 191.9 95.2C193.7 97.8 192.9 96.8 194.3 98.6C195.7 100.4 197.8 103.6 200.2 106.1C202.6 108.6 205.8 111.4 208.6 113.7C211.4 115.9 214.2 117.4 217.0 119.5C219.8 121.5 222.6 123.8 225.4 126.2C228.2 128.6 230.9 130.5 233.7 133.7C236.5 136.9 239.6 141.5 242.1 145.4C244.6 149.3 247.1 153.5 248.8 157.1C250.6 160.8 251.3 163.7 252.6 167.3C253.9 171.0 255.8 176.3 256.8 179.2C257.9 182.0 258.1 182.6 258.9 184.4C259.7 186.2 260.1 187.8 261.4 190.0C262.7 192.2 265.1 195.5 266.9 197.7C268.6 199.8 269.9 199.7 271.9 202.7C273.8 205.6 276.4 210.9 278.6 215.2C280.8 219.6 283.4 224.2 285.3 228.6C287.2 233.1 288.6 237.8 290.3 242.0C292.0 246.1 293.6 249.4 295.3 253.6C297.0 257.9 298.7 262.6 300.4 267.3C302.1 272.1 303.7 277.2 305.4 282.0C307.1 286.9 308.7 291.9 310.4 296.6C312.1 301.2 313.7 305.9 315.4 310.1C317.1 314.3 318.8 318.3 320.5 322.0C322.2 325.6 323.6 328.6 325.5 332.0C327.4 335.3 330.0 338.7 332.2 342.0C334.4 345.4 336.7 348.7 338.9 352.1C341.1 355.4 343.7 359.3 345.6 362.1C347.6 364.9 348.7 366.6 350.6 368.8C352.6 371.0 355.4 373.6 357.3 375.5C359.2 377.4 360.9 379.1 362.0 380.2C363.1 381.3 362.9 380.9 364.0 382.2C365.1 383.6 367.6 386.8 368.7 388.2C369.8 389.6 369.3 389.0 370.7 390.5C372.1 391.9 375.6 395.4 377.1 397.0C378.6 398.5 378.8 398.7 379.9 399.9C381.0 401.1 382.0 403.4 383.8 404.3C385.6 405.2 388.0 405.0 390.5 405.1C393.0 405.2 396.7 404.6 398.9 404.8C401.1 405.0 401.9 406.7 403.9 406.5C405.8 406.2 408.7 403.7 410.6 403.5C412.6 403.2 413.7 404.0 415.6 405.1C417.6 406.2 420.1 408.0 422.3 410.1C424.5 412.2 427.0 415.3 429.0 417.7C431.0 420.0 432.2 421.7 434.3 424.3C436.4 426.9 439.4 430.2 441.9 433.2C444.4 436.1 446.8 439.1 449.1 442.0C451.4 444.9 454.2 448.7 455.8 450.8C457.4 452.8 457.5 453.0 458.6 454.3C459.7 455.6 461.1 457.0 462.5 458.5C463.9 459.9 465.9 462.0 467.0 463.2C468.1 464.5 468.1 464.5 469.2 466.1C470.3 467.7 472.6 471.3 473.7 472.9C474.8 474.5 474.8 474.5 475.9 475.8C477.0 477.0 479.3 479.4 480.4 480.5C481.5 481.6 481.2 481.4 482.6 482.3C484.0 483.2 487.4 485.2 488.8 486.0C490.2 486.8 489.6 486.5 491.0 487.0C492.4 487.4 495.6 488.3 497.1 488.6C498.6 488.9 498.6 488.7 500.0 488.8C501.4 488.8 503.5 489.1 505.5 489.0C507.5 488.8 510.0 488.6 512.2 487.8C514.4 487.1 517.0 485.9 518.9 484.5C520.8 483.0 522.4 480.6 523.5 479.3C524.6 478.0 524.8 478.1 525.6 476.8C526.4 475.5 527.4 473.6 528.5 471.5C529.6 469.4 530.5 467.5 532.3 464.3C534.0 461.1 536.8 456.1 539.0 452.2C541.2 448.4 543.5 444.4 545.7 441.2C547.9 438.0 550.2 435.3 552.4 433.0C554.6 430.7 557.3 428.7 559.1 427.2C560.9 425.8 562.0 425.3 563.3 424.4C564.6 423.5 565.3 423.3 567.0 422.0C568.7 420.8 571.5 418.4 573.7 417.0C575.9 415.6 578.2 414.6 580.4 413.7C582.6 412.7 585.1 411.5 587.1 411.1C589.1 410.8 590.2 411.1 592.2 411.6C594.2 412.2 596.4 413.5 598.9 414.5C601.4 415.5 604.7 416.8 607.2 417.8C609.7 418.8 611.9 419.9 613.9 420.3C615.9 420.7 617.3 420.7 619.0 420.3C620.7 419.9 621.8 419.4 624.0 417.8C626.2 416.3 629.6 413.6 632.4 411.1C635.2 408.6 637.9 405.7 640.7 402.8C643.5 399.9 646.3 396.6 649.1 393.5C651.9 390.5 654.7 387.6 657.5 384.3C660.3 381.0 663.9 376.0 665.8 373.5C667.7 371.0 667.3 371.4 668.7 369.5C670.1 367.5 672.0 365.1 674.2 362.0C676.4 358.8 679.7 354.1 682.1 350.6C684.5 347.0 686.8 343.3 688.8 340.5C690.8 337.7 691.8 335.9 693.8 333.8C695.8 331.7 698.3 329.9 700.5 328.0C702.7 326.0 705.0 324.5 707.2 322.1C709.4 319.7 711.7 316.8 713.9 313.7C716.1 310.7 718.4 306.8 720.6 303.7C722.8 300.6 725.1 298.1 727.3 295.3C729.5 292.5 731.8 289.6 734.0 286.9C736.2 284.3 738.5 281.2 740.7 279.4C742.9 277.6 745.4 277.0 747.4 276.0C749.4 275.0 751.3 274.3 752.5 273.4C753.7 272.6 753.4 272.4 754.5 270.9C755.6 269.4 757.3 267.0 759.2 264.7C761.1 262.3 763.6 259.0 765.8 256.8C767.9 254.6 770.2 253.2 772.1 251.3C774.0 249.5 775.9 247.0 777.1 245.7C778.3 244.5 778.1 244.8 779.2 243.7C780.3 242.6 781.9 240.3 783.8 239.1C785.7 237.8 788.0 236.9 790.5 236.3C793.0 235.7 796.7 236.3 798.9 235.4C801.1 234.6 801.9 232.2 803.9 231.3C805.9 230.3 808.4 230.6 810.6 229.6C812.8 228.6 815.4 227.1 817.3 225.4C819.2 223.7 820.9 220.9 822.0 219.5C823.1 218.1 822.9 218.6 824.0 216.9C825.1 215.3 827.6 211.3 828.7 209.6C829.8 207.8 829.6 208.2 830.7 206.7C831.8 205.2 834.3 202.2 835.4 200.8C836.5 199.4 836.3 199.8 837.4 198.5C838.5 197.3 841.0 194.7 842.1 193.6C843.2 192.4 843.0 192.6 844.1 191.4C845.2 190.3 847.7 187.8 848.8 186.7C849.9 185.6 849.7 185.8 850.8 184.7C851.9 183.6 854.4 181.1 855.5 180.0C856.6 178.9 856.4 179.1 857.5 178.0C858.6 176.9 861.1 174.4 862.2 173.3C863.3 172.2 863.1 172.4 864.2 171.5C865.3 170.6 867.8 168.7 868.9 167.9C870.0 167.2 869.8 167.3 870.9 166.8C872.0 166.3 874.5 165.3 875.6 164.9C876.7 164.5 876.9 164.6 877.6 164.6C878.3 164.6 878.9 164.6 879.7 164.9C880.5 165.1 881.3 165.3 882.6 166.1C883.9 166.9 886.3 168.6 887.6 169.5C888.9 170.5 889.5 171.0 890.6 171.8C891.7 172.7 893.2 173.8 894.3 174.6C895.4 175.5 896.3 176.0 897.3 177.1C898.2 178.3 899.1 180.1 900.0 181.5C900.9 182.9 901.2 183.5 902.4 185.5C903.6 187.6 905.4 190.8 907.4 193.9C909.4 196.9 911.9 201.0 914.1 203.9C916.3 206.8 918.6 208.7 920.8 211.4C923.0 214.2 925.1 217.1 927.5 220.5C929.9 223.9 933.2 228.3 935.4 231.8C937.5 235.4 938.7 238.5 940.4 241.8C942.1 245.2 943.7 248.5 945.4 251.8C947.1 255.2 948.4 258.6 950.4 261.8C952.4 265.0 954.9 268.4 957.1 271.1C959.3 273.7 961.6 275.7 963.8 277.8C966.0 279.9 968.3 282.1 970.5 283.6C972.7 285.2 975.0 286.4 977.2 287.0C979.4 287.6 981.7 287.1 983.9 287.3C986.1 287.6 988.4 287.9 990.6 288.7C992.8 289.5 995.1 290.6 997.3 292.0C999.5 293.4 1001.8 295.6 1004.0 297.0C1006.2 298.5 1008.5 299.8 1010.7 300.7C1012.9 301.7 1015.2 302.7 1017.4 302.9C1019.6 303.1 1021.9 302.6 1024.1 302.1C1026.3 301.5 1028.6 300.8 1030.8 299.6C1033.0 298.3 1035.3 296.4 1037.5 294.6C1039.7 292.8 1042.2 290.4 1044.2 288.7C1046.2 287.0 1047.7 285.7 1049.2 284.5C1050.7 283.4 1052.7 282.4 1053.4 282.0" fill="none" stroke="#cc2050" stroke-width="1.9" stroke-linejoin="round"/>
<path d="M0.0 91.3C1.7 89.5 6.7 83.8 10.0 80.4C13.3 77.1 16.9 73.8 20.1 71.2C23.3 68.5 26.2 66.4 29.3 64.5C32.4 62.5 35.9 60.0 38.5 59.5C41.1 58.9 43.0 59.6 45.2 61.1C47.4 62.7 49.7 65.2 51.9 68.6C54.1 72.1 56.1 77.6 58.6 82.0C61.1 86.5 64.5 91.8 67.0 95.5C69.5 99.1 71.8 103.0 73.7 103.8C75.7 104.7 76.8 103.3 78.7 100.5C80.7 97.7 83.2 92.1 85.4 87.1C87.6 82.1 89.6 76.8 92.1 70.4C94.6 63.9 98.0 54.7 100.5 48.5C103.0 42.4 105.5 36.5 107.2 33.5C108.9 30.4 109.1 30.2 110.5 30.2C111.9 30.2 113.4 32.0 115.6 33.5C117.8 35.0 121.4 36.8 123.9 39.3C126.4 41.8 128.4 45.0 130.6 48.5C132.8 52.0 135.1 56.9 137.3 60.2C139.5 63.6 141.9 66.0 144.0 68.6C146.1 71.3 147.9 73.4 150.0 76.1C152.1 78.9 155.2 83.2 156.7 85.3C158.2 87.4 158.0 87.1 159.1 88.9C160.2 90.6 162.0 93.6 163.4 95.8C164.8 98.1 165.6 100.3 167.5 102.5C169.4 104.7 172.4 107.6 175.1 109.2C177.8 110.8 181.2 111.0 183.5 112.4C185.8 113.8 187.2 115.8 189.2 117.5C191.1 119.2 193.5 120.8 195.2 122.6C196.9 124.3 198.1 126.4 199.3 128.2C200.5 129.9 201.6 131.7 202.6 133.0C203.6 134.3 204.0 134.9 205.3 136.2C206.6 137.6 208.6 140.0 210.3 141.2C212.0 142.5 213.6 143.9 215.3 143.7C217.0 143.6 218.6 141.3 220.3 140.4C222.0 139.5 223.7 138.7 225.4 138.4C227.1 138.1 229.0 138.1 230.4 138.7C231.8 139.3 232.6 140.1 233.7 142.0C234.8 144.0 236.0 147.1 237.1 150.5C238.2 153.8 239.3 157.4 240.4 162.0C241.5 166.6 242.7 173.1 243.8 178.0C244.9 182.9 245.5 185.1 246.8 191.6C248.1 198.1 250.4 209.4 251.8 216.9C253.2 224.4 254.0 230.6 255.1 236.7C256.2 242.9 257.4 248.7 258.5 253.8C259.6 258.8 260.7 263.9 261.8 267.0C262.9 270.0 263.9 271.2 265.2 272.1C266.5 273.1 268.0 271.9 269.4 272.5C270.8 273.1 272.1 274.4 273.6 275.5C275.1 276.6 277.2 278.3 278.6 279.0C280.0 279.8 280.8 279.8 281.9 280.1C283.0 280.3 283.6 279.6 285.3 280.6C287.0 281.5 290.3 283.7 292.0 285.8C293.7 287.9 294.3 290.2 295.3 293.1C296.3 296.1 296.8 299.4 297.9 303.6C299.0 307.8 300.5 313.4 302.0 318.4C303.5 323.5 305.4 328.7 307.1 333.8C308.8 338.8 310.4 343.5 312.1 348.8C313.8 354.0 315.8 361.1 317.1 365.4C318.4 369.7 319.3 371.9 320.1 374.6C320.9 377.3 321.2 378.7 322.1 381.5C323.0 384.4 324.2 388.4 325.2 391.6C326.2 394.9 327.2 398.3 328.0 401.1C328.8 403.9 329.3 405.7 330.2 408.5C331.1 411.3 331.8 416.5 333.5 418.1C335.2 419.6 338.6 418.0 340.2 417.7C341.8 417.3 341.7 418.0 342.8 415.9C343.9 413.8 345.6 408.0 346.9 405.2C348.2 402.4 349.2 401.6 350.6 399.1C352.1 396.5 354.2 393.5 355.6 390.1C357.0 386.8 358.0 382.0 359.0 379.0C360.0 376.0 360.5 373.4 361.5 372.2C362.5 370.9 363.6 370.5 364.8 371.3C366.1 372.2 367.7 375.7 369.0 377.1C370.3 378.5 371.3 378.3 372.4 379.7C373.5 381.2 374.6 383.6 375.7 385.8C376.8 388.1 377.9 391.2 378.8 393.4C379.7 395.7 380.0 397.0 380.8 399.5C381.6 402.0 382.6 404.8 383.8 408.5C385.0 412.2 386.6 419.1 388.0 421.9C389.4 424.7 390.4 425.1 392.2 425.2C394.0 425.3 396.7 423.0 398.9 422.7C401.1 422.4 403.7 423.9 405.6 423.5C407.6 423.1 408.9 420.6 410.6 420.2C412.3 419.8 414.3 420.3 415.6 421.0C416.9 421.7 417.6 423.3 418.4 424.3C419.2 425.3 419.5 425.7 420.6 426.9C421.7 428.1 424.0 430.4 425.1 431.5C426.2 432.6 426.5 432.9 427.3 433.5C428.1 434.2 429.2 434.7 430.1 435.2C431.0 435.6 431.5 435.6 432.4 436.2C433.2 436.8 434.4 437.9 435.2 438.7C436.0 439.6 436.4 440.2 437.4 441.5C438.4 442.8 439.7 443.6 441.0 446.5C442.3 449.5 444.1 455.9 445.2 459.0C446.3 462.2 446.6 463.0 447.4 465.3C448.2 467.6 449.3 470.4 450.2 472.8C451.1 475.1 451.6 476.9 452.5 479.2C453.4 481.4 454.5 484.2 455.3 486.2C456.1 488.3 456.7 489.7 457.5 491.7C458.3 493.7 459.5 496.3 460.3 498.2C461.1 500.2 461.7 501.4 462.5 503.4C463.3 505.4 464.3 507.8 465.3 510.4C466.3 513.0 467.7 516.5 468.7 518.9C469.7 521.2 470.2 523.7 471.2 524.6C472.2 525.6 473.4 525.2 474.5 524.6C475.6 524.1 476.6 523.1 477.9 521.3C479.2 519.4 481.0 515.6 482.1 513.7C483.2 511.8 483.5 511.2 484.3 509.7C485.1 508.2 486.3 506.2 487.1 504.8C487.9 503.3 488.5 502.4 489.3 501.0C490.1 499.7 491.3 498.2 492.1 496.6C492.9 495.1 493.5 493.8 494.3 491.5C495.1 489.3 496.3 485.7 497.1 483.3C497.9 481.0 498.4 479.7 499.2 477.6C500.0 475.6 500.9 473.3 502.2 470.9C503.4 468.4 505.6 464.9 506.7 462.9C507.8 461.0 507.5 461.7 508.9 458.9C510.3 456.2 512.9 450.9 515.1 446.6C517.3 442.3 520.1 436.9 522.3 433.0C524.5 429.0 526.5 425.7 528.1 423.1C529.7 420.4 529.9 419.6 531.9 417.0C533.9 414.3 537.7 409.6 540.2 407.0C542.7 404.4 544.9 402.3 546.9 401.1C548.9 399.9 550.3 399.7 552.0 399.9C553.7 400.2 555.3 401.3 557.0 402.8C558.7 404.2 560.3 406.7 562.0 408.6C563.7 410.5 565.3 412.5 567.0 414.4C568.7 416.4 570.4 419.0 572.1 420.4C573.8 421.7 575.6 422.4 577.1 422.3C578.6 422.3 579.9 421.5 581.3 420.3C582.7 419.1 584.0 416.5 585.5 415.3C587.0 414.0 588.8 412.9 590.5 412.8C592.2 412.7 593.8 413.2 595.5 414.5C597.2 415.7 598.5 418.4 600.5 420.3C602.5 422.2 605.0 424.1 607.2 426.2C609.4 428.3 611.9 432.5 613.9 432.9C615.9 433.3 617.3 431.5 619.0 428.6C620.7 425.7 622.3 420.3 624.0 415.3C625.7 410.2 627.3 403.9 629.0 398.6C630.7 393.3 632.3 388.6 634.0 383.6C635.7 378.6 637.8 373.6 639.4 368.8C641.0 364.0 642.5 357.9 643.6 354.8C644.7 351.7 645.0 351.7 645.8 350.2C646.6 348.7 647.0 347.2 648.6 345.5C650.2 343.9 653.3 342.2 655.3 340.5C657.2 338.8 658.6 337.5 660.3 335.5C662.0 333.5 663.7 331.1 665.4 328.7C667.1 326.3 668.4 322.6 670.4 321.2C672.4 319.8 674.9 320.4 677.1 320.4C679.3 320.4 681.6 320.5 683.8 321.2C686.0 321.9 688.3 324.4 690.5 324.6C692.7 324.7 695.2 323.0 697.2 322.1C699.2 321.1 700.5 320.4 702.2 318.7C703.9 317.1 705.5 316.0 707.2 312.1C708.9 308.1 710.9 300.1 712.3 295.1C713.7 290.1 714.6 285.8 715.6 281.9C716.6 278.0 717.2 275.5 718.5 271.7C719.8 267.9 721.8 263.3 723.5 259.3C725.2 255.4 726.9 251.5 728.5 247.9C730.1 244.4 731.5 240.1 733.2 237.9C734.9 235.7 736.9 234.5 738.6 234.7C740.3 234.8 741.9 237.0 743.6 238.8C745.3 240.6 746.9 243.6 748.6 245.4C750.3 247.2 751.7 248.4 753.6 249.8C755.5 251.1 758.3 252.7 760.3 253.5C762.3 254.3 764.0 254.6 765.8 254.5C767.6 254.3 769.2 254.1 770.9 252.7C772.6 251.3 774.4 248.4 775.9 246.1C777.4 243.7 779.1 240.3 780.1 238.4C781.1 236.5 780.7 236.8 782.1 234.6C783.5 232.5 786.6 228.4 788.8 225.4C791.0 222.5 793.3 219.6 795.5 217.1C797.7 214.5 799.7 212.2 801.9 210.4C804.1 208.6 806.4 207.6 808.6 206.3C810.8 205.0 813.3 204.1 815.3 202.6C817.2 201.0 818.6 199.3 820.3 196.8C822.0 194.4 824.1 190.0 825.3 188.0C826.5 185.9 826.2 186.5 827.3 184.6C828.4 182.7 830.9 178.5 832.0 176.7C833.1 174.8 832.9 175.1 834.0 173.5C835.1 172.0 837.6 168.8 838.7 167.4C839.8 166.0 839.6 166.2 840.7 165.1C841.8 164.0 844.3 161.7 845.4 160.7C846.5 159.7 846.3 159.9 847.4 159.1C848.5 158.3 851.0 156.6 852.1 155.8C853.2 155.1 853.0 155.3 854.1 154.7C855.2 154.1 857.7 152.7 858.8 152.1C859.9 151.5 859.7 151.5 860.8 151.1C861.9 150.7 864.4 150.0 865.5 149.7C866.6 149.4 866.4 149.5 867.5 149.5C868.6 149.5 871.1 149.7 872.2 149.8C873.3 149.9 873.4 149.9 874.2 150.2C875.0 150.6 876.4 151.1 877.2 151.6C878.0 152.2 878.3 152.0 879.2 153.7C880.1 155.5 881.5 158.7 882.6 162.2C883.7 165.8 884.8 170.6 885.9 174.9C887.0 179.3 888.2 184.1 889.3 188.6C890.4 193.0 891.6 197.8 892.6 201.8C893.6 205.7 894.4 208.9 895.2 212.2C896.0 215.5 896.5 217.9 897.3 221.3C898.1 224.7 898.7 227.5 900.0 232.6C901.3 237.6 903.8 246.6 905.2 251.8C906.6 257.0 907.2 260.9 908.6 263.6C910.0 266.3 911.9 267.0 913.6 267.8C915.3 268.5 916.7 268.4 918.6 268.3C920.5 268.1 923.3 267.7 925.3 266.9C927.2 266.1 928.6 264.7 930.3 263.6C932.0 262.5 933.7 261.0 935.4 260.6C937.1 260.1 938.7 260.3 940.4 261.1C942.1 261.8 943.7 263.2 945.4 265.2C947.1 267.3 948.7 270.7 950.4 273.6C952.1 276.4 953.8 279.1 955.5 282.1C957.2 285.0 958.8 288.2 960.5 291.2C962.2 294.3 963.8 297.6 965.5 300.4C967.2 303.2 968.5 305.9 970.5 307.9C972.5 309.9 975.0 311.6 977.2 312.4C979.4 313.3 981.9 313.5 983.9 313.0C985.9 312.5 987.3 311.1 989.0 309.6C990.7 308.0 992.3 305.5 994.0 303.7C995.7 301.9 997.3 299.8 999.0 298.7C1000.7 297.7 1002.3 297.1 1004.0 297.4C1005.7 297.7 1007.4 299.8 1009.1 300.4C1010.8 301.1 1012.4 301.7 1014.1 301.2C1015.8 300.8 1017.2 299.0 1019.1 297.9C1021.0 296.8 1023.8 295.9 1025.8 294.6C1027.8 293.2 1029.1 291.9 1030.8 289.6C1032.5 287.2 1034.1 283.9 1035.8 280.4C1037.5 276.9 1039.2 271.8 1040.9 268.6C1042.6 265.3 1044.2 262.8 1045.9 261.1C1047.6 259.3 1049.3 258.6 1050.9 258.2C1052.5 257.9 1054.8 258.8 1055.6 258.9" fill="none" stroke="#bedafc" stroke-width="1.4" stroke-linejoin="round"/>
<rect x="1" y="232" width="1199" height="3" fill="#aee6ff" shape-rendering="crispEdges"/>
<rect x="1" y="281" width="1199" height="1" fill="#d4ecff" shape-rendering="crispEdges"/>
</g>
<g clip-path="url(#c2)">
<path d="M1.3 614.5C1.9 616.0 3.5 620.9 5.0 623.1C6.5 625.4 8.3 629.2 10.0 628.2C11.7 627.1 13.3 619.7 15.0 617.0C16.7 614.3 18.4 614.3 20.1 611.8C21.8 609.3 23.7 603.3 25.1 601.9C26.6 600.4 27.6 601.2 28.8 603.1C30.1 605.0 30.7 609.8 32.6 613.2C34.5 616.5 37.8 619.4 40.1 623.2C42.4 626.9 44.7 631.9 46.4 635.8C48.1 639.8 48.2 643.6 50.1 646.9C52.0 650.2 55.0 652.7 57.6 655.7C60.2 658.8 63.6 664.8 65.7 665.2C67.8 665.6 68.6 661.9 70.2 658.2C71.8 654.5 73.8 649.4 75.2 643.2C76.7 636.9 77.7 629.7 78.9 621.0C80.2 612.2 81.4 596.8 82.7 590.6C84.0 584.5 85.0 585.2 86.5 584.3C88.0 583.5 89.8 584.6 91.5 585.6C93.2 586.6 94.6 590.0 96.5 590.6C98.4 591.2 100.9 589.4 102.8 589.3C104.7 589.3 106.3 588.1 107.8 590.2C109.2 592.3 110.2 597.9 111.5 601.8C112.8 605.6 113.8 609.0 115.3 613.2C116.8 617.4 118.6 622.6 120.3 626.9C122.0 631.3 123.6 635.7 125.3 639.4C127.0 643.2 129.1 647.1 130.3 649.4C131.6 651.7 131.6 653.2 132.8 653.2C134.1 653.2 136.1 650.3 137.8 649.5C139.5 648.7 141.2 647.7 142.9 648.3C144.6 648.9 146.2 651.6 147.9 653.3C149.6 654.9 151.2 657.2 152.9 658.3C154.6 659.3 156.4 657.4 157.9 659.5C159.4 661.6 160.6 667.6 161.7 671.0C162.8 674.3 163.2 679.5 164.2 679.5C165.2 679.5 166.7 674.6 167.9 670.8C169.2 667.1 170.2 660.9 171.7 657.0C173.2 653.0 175.2 649.3 176.7 647.0C178.2 644.7 179.2 644.8 180.5 643.1C181.8 641.5 183.2 637.0 184.2 637.0C185.2 637.0 185.6 639.2 186.7 643.2C187.8 647.2 189.2 656.2 190.5 660.8C191.8 665.4 193.1 668.3 194.2 670.7C195.3 673.1 195.9 675.2 197.2 675.0C198.5 674.8 200.2 672.8 201.8 669.4C203.4 666.0 205.1 659.6 206.8 654.4C208.5 649.2 210.4 642.5 211.8 638.2C213.2 633.8 214.4 630.8 215.5 628.3C216.6 625.8 217.4 622.9 218.5 623.3C219.6 623.7 220.6 628.2 221.8 630.7C223.0 633.2 224.1 635.7 225.6 638.3C227.1 640.8 229.1 641.3 230.6 645.9C232.1 650.4 233.1 658.5 234.3 665.6C235.6 672.7 236.6 681.2 238.1 688.4C239.6 695.5 241.6 702.5 243.1 708.4C244.6 714.2 245.7 718.8 246.9 723.5C248.2 728.3 249.4 733.4 250.6 737.1C251.8 740.8 252.9 745.7 253.9 745.9C254.9 746.2 255.8 743.1 256.9 738.4C258.0 733.8 259.6 725.1 260.7 718.0C261.8 710.8 262.4 703.7 263.2 695.4C264.0 687.1 264.9 675.7 265.7 668.0C266.5 660.4 267.4 653.1 268.2 649.4C269.0 645.7 269.9 645.2 270.7 645.8C271.5 646.4 272.2 650.2 273.2 653.3C274.2 656.4 275.6 660.4 276.9 664.4C278.1 668.4 279.4 673.9 280.7 677.1C282.0 680.2 283.0 682.5 284.5 683.3C286.0 684.2 287.8 682.5 289.5 682.1C291.2 681.7 292.8 679.8 294.5 680.8C296.2 681.9 298.0 686.1 299.5 688.3C301.0 690.6 302.1 691.1 303.3 694.3C304.6 697.4 305.8 703.5 307.0 707.3C308.2 711.2 309.7 714.4 310.8 717.5C311.9 720.5 312.7 725.6 313.8 725.4C314.9 725.2 316.2 720.5 317.5 716.0C318.8 711.5 320.0 703.2 321.3 698.4C322.6 693.6 324.1 687.4 325.1 687.2C326.2 687.0 326.6 694.0 327.6 697.2C328.6 700.4 330.3 705.7 331.3 706.3C332.3 706.9 333.0 705.1 333.8 700.9C334.6 696.8 335.2 688.3 336.3 681.1C337.4 674.0 338.8 665.5 340.1 658.3C341.4 651.1 342.6 645.8 343.9 637.9C345.1 630.0 346.4 617.8 347.6 610.8C348.9 603.7 350.1 599.2 351.4 595.6C352.6 591.9 354.0 588.9 355.1 588.9C356.2 588.9 357.1 591.9 358.1 595.5C359.2 599.1 360.2 604.3 361.4 610.6C362.6 616.9 363.9 626.3 365.2 633.4C366.4 640.5 367.9 648.0 368.9 653.1C369.8 658.3 369.8 663.0 370.9 664.4C371.9 665.7 373.9 661.5 375.2 661.3C376.5 661.1 377.8 661.4 378.9 663.3C379.9 665.1 380.6 670.0 381.5 672.1C382.4 674.2 383.2 676.2 384.0 675.7C384.8 675.2 385.5 673.5 386.5 669.4C387.5 665.2 388.9 656.1 390.2 650.9C391.4 645.7 392.9 641.7 394.0 638.2C395.1 634.6 395.9 629.5 397.0 629.5C398.1 629.5 399.1 636.6 400.3 638.2C401.5 639.9 402.6 639.5 404.0 639.5C405.4 639.5 407.5 637.6 409.0 638.2C410.5 638.9 411.7 641.0 412.8 643.3C413.9 645.6 414.6 650.8 415.8 652.0C417.1 653.2 418.7 650.5 420.3 650.2C421.9 650.0 423.8 652.1 425.3 650.7C426.8 649.4 427.9 644.4 429.1 641.9C430.3 639.4 431.3 635.2 432.3 635.8C433.3 636.4 434.2 643.3 435.3 645.6C436.4 647.9 437.8 646.5 439.1 649.5C440.4 652.5 441.6 657.1 442.9 663.6C444.1 670.0 445.5 682.0 446.6 688.2C447.7 694.4 448.8 698.0 449.6 700.8C450.4 703.5 450.6 704.6 451.6 704.6C452.6 704.6 454.1 702.3 455.4 700.9C456.6 699.4 457.9 698.8 459.1 695.9C460.4 693.0 461.4 687.5 462.9 683.4C464.4 679.2 466.4 675.2 467.9 670.8C469.4 666.4 470.4 660.9 471.7 657.0C472.9 653.0 474.1 651.5 475.4 647.1C476.6 642.7 477.9 635.5 479.2 630.7C480.5 625.9 481.8 621.6 483.0 618.1C484.2 614.5 485.4 610.7 486.7 609.4C487.9 608.2 489.2 611.8 490.5 610.6C491.8 609.3 492.9 605.1 494.2 602.0C495.4 598.8 496.9 594.5 498.0 591.8C499.1 589.2 499.2 586.7 500.5 586.1C501.8 585.5 504.0 589.2 505.5 588.1C507.0 586.9 508.1 581.6 509.3 579.3C510.6 577.0 511.8 574.3 513.0 574.3C514.2 574.4 515.5 577.2 516.8 579.3C518.1 581.4 519.5 585.0 520.6 586.9C521.7 588.8 522.6 590.9 523.6 590.5C524.6 590.1 525.6 585.9 526.8 584.4C528.0 582.8 529.1 580.7 530.6 581.1C532.1 581.5 533.9 585.9 535.6 586.8C537.3 587.8 539.1 586.2 540.6 586.8C542.1 587.5 543.1 588.0 544.4 590.7C545.6 593.4 546.9 598.5 548.1 603.1C549.4 607.6 550.6 613.6 551.9 618.2C553.1 622.8 554.4 627.2 555.6 630.6C556.9 633.9 558.1 636.0 559.4 638.2C560.7 640.4 562.0 643.9 563.2 643.7C564.5 643.4 565.5 639.4 566.9 637.0C568.3 634.6 570.0 631.3 571.9 629.5C573.8 627.7 576.5 627.7 578.2 626.2C579.9 624.7 580.8 622.4 582.0 620.6C583.2 618.9 584.5 616.1 585.7 615.7C587.0 615.3 588.2 616.2 589.5 618.2C590.8 620.3 592.0 623.5 593.2 628.1C594.5 632.7 595.9 641.5 597.0 645.8C598.1 650.0 599.0 652.0 600.0 653.7C601.0 655.5 602.0 656.5 603.0 656.3C604.0 656.0 605.1 653.7 606.3 652.2C607.5 650.7 608.8 648.1 610.0 647.2C611.2 646.4 612.8 649.7 613.8 646.9C614.8 644.1 615.5 637.1 616.3 630.6C617.1 624.1 618.0 615.2 618.8 608.1C619.6 601.0 620.2 594.4 621.3 588.1C622.3 581.8 623.9 574.3 625.1 570.5C626.4 566.6 627.5 565.5 628.8 565.1C630.0 564.7 631.4 566.1 632.6 568.1C633.9 570.0 635.0 574.0 636.3 576.7C637.5 579.4 638.8 583.4 640.1 584.3C641.4 585.3 642.6 583.5 643.9 582.5C645.1 581.6 646.4 578.3 647.6 578.6C648.9 578.9 650.4 582.6 651.4 584.4C652.4 586.2 652.6 588.7 653.9 589.3C655.1 590.0 657.2 588.5 658.9 588.1C660.6 587.7 662.4 586.9 663.9 586.8C665.4 586.8 666.5 586.2 667.7 587.7C669.0 589.1 670.1 592.5 671.4 595.5C672.6 598.5 674.0 602.3 675.2 605.7C676.5 609.0 677.6 612.4 678.9 615.5C680.1 618.7 681.4 622.3 682.7 624.4C684.0 626.5 685.4 626.8 686.5 628.2C687.6 629.7 688.6 634.0 689.5 633.1C690.4 632.2 691.0 627.2 692.0 623.1C693.0 619.0 694.0 611.6 695.2 608.3C696.4 605.0 697.7 604.8 699.0 603.1C700.3 601.4 701.5 599.5 702.8 598.1C704.0 596.6 705.5 597.3 706.5 594.4C707.5 591.5 708.2 584.9 709.0 580.7C709.8 576.5 710.5 573.1 711.5 569.4C712.5 565.7 714.0 559.7 715.3 558.5C716.5 557.4 717.8 560.1 719.0 562.5C720.2 564.9 721.5 571.3 722.8 573.0C724.1 574.7 725.4 572.0 726.6 572.6C727.9 573.2 729.0 575.0 730.3 576.8C731.5 578.5 732.9 579.8 734.1 583.1C735.4 586.4 736.5 592.7 737.8 596.7C739.0 600.7 740.3 602.4 741.6 606.9C742.9 611.3 744.3 618.1 745.4 623.4C746.5 628.6 747.5 635.0 748.4 638.3C749.3 641.5 749.9 643.1 750.9 642.7C751.9 642.3 752.9 638.4 754.1 635.8C755.3 633.2 756.6 629.2 757.9 626.9C759.2 624.6 760.2 623.2 761.7 621.9C763.2 620.6 765.0 620.6 766.7 619.4C768.4 618.1 770.0 617.1 771.7 614.4C773.4 611.6 775.2 605.8 776.7 603.1C778.2 600.4 779.0 598.7 780.5 598.1C782.0 597.5 783.8 598.6 785.5 599.4C787.2 600.2 788.8 602.1 790.5 603.1C792.2 604.2 793.8 606.2 795.5 605.6C797.2 605.0 799.0 600.4 800.5 599.4C802.0 598.3 802.8 598.6 804.3 599.4C805.8 600.2 807.6 603.1 809.3 604.4C811.0 605.6 812.6 606.6 814.3 606.9C816.0 607.2 817.8 608.0 819.3 606.1C820.8 604.2 821.9 599.3 823.1 595.5C824.4 591.6 825.6 585.8 826.8 583.1C828.0 580.4 829.0 579.7 830.1 579.3C831.2 579.0 832.0 579.7 833.1 581.1C834.2 582.5 835.5 585.0 836.8 588.0C838.0 591.1 839.3 596.2 840.6 599.4C841.9 602.5 843.1 605.1 844.4 606.9C845.6 608.7 846.6 609.4 848.1 610.1C849.6 610.8 851.9 612.5 853.1 611.1C854.4 609.8 854.3 604.6 855.6 602.0C856.9 599.4 859.2 596.1 860.7 595.7C862.2 595.2 863.1 596.8 864.4 599.4C865.6 601.9 867.0 606.2 868.2 610.8C869.5 615.3 870.5 622.2 871.9 626.8C873.3 631.4 875.4 632.9 876.9 638.1C878.4 643.4 879.7 652.0 880.7 658.3C881.8 664.5 882.4 670.3 883.2 675.8C884.0 681.2 884.7 686.3 885.7 690.8C886.8 695.2 888.4 699.7 889.5 702.3C890.6 704.8 891.5 706.0 892.5 706.1C893.5 706.2 894.5 703.0 895.7 703.0C896.9 702.9 898.3 704.7 899.5 705.7C900.7 706.7 901.9 709.6 903.0 708.8C904.1 708.0 905.0 704.5 906.1 700.8C907.2 697.0 908.5 690.9 909.8 686.2C911.0 681.6 912.4 677.8 913.6 673.1C914.9 668.5 916.0 662.7 917.3 658.4C918.5 654.0 919.9 649.7 921.1 647.0C922.4 644.2 923.5 643.6 924.8 642.0C926.0 640.5 927.3 637.7 928.6 637.7C929.9 637.7 930.9 641.1 932.4 642.0C933.9 642.8 935.9 642.5 937.4 642.7C938.9 642.9 940.1 641.7 941.1 643.2C942.1 644.7 942.6 648.9 943.6 651.8C944.6 654.8 946.1 658.8 947.4 660.8C948.7 662.7 950.0 663.4 951.2 663.8C952.5 664.1 953.6 662.2 954.9 662.8C956.1 663.3 957.5 665.7 958.7 667.1C960.0 668.4 961.1 670.8 962.4 670.8C963.6 670.8 964.9 668.7 966.2 667.0C967.5 665.4 968.8 662.4 970.0 660.7C971.2 659.1 972.5 658.9 973.7 657.0C975.0 655.1 976.2 652.5 977.5 649.4C978.8 646.3 980.0 641.2 981.2 638.3C982.5 635.4 983.7 634.1 985.0 631.9C986.3 629.8 987.5 627.5 988.8 625.6C990.0 623.7 991.4 622.0 992.5 620.7C993.6 619.4 994.5 617.9 995.5 617.7C996.5 617.5 997.6 618.1 998.8 619.4C1000.0 620.8 1001.2 623.0 1002.5 625.6C1003.8 628.2 1005.0 633.4 1006.3 635.2C1007.6 637.0 1008.9 636.2 1010.1 636.5C1011.4 636.8 1012.8 637.5 1013.8 637.0C1014.8 636.4 1015.5 635.9 1016.3 633.2C1017.1 630.6 1017.8 624.4 1018.8 620.8C1019.8 617.3 1021.3 614.3 1022.6 611.9C1023.9 609.4 1025.2 607.6 1026.4 606.1C1027.7 604.6 1028.8 603.8 1030.1 603.1C1031.3 602.4 1032.9 602.7 1033.9 601.8C1035.0 600.9 1035.4 599.0 1036.4 597.6C1037.4 596.1 1038.8 594.0 1040.1 593.1C1041.3 592.3 1042.9 592.4 1043.9 592.6C1045.0 592.8 1045.4 592.8 1046.4 594.4C1047.5 595.9 1049.2 599.1 1050.2 602.0C1051.2 605.0 1051.8 608.8 1052.7 612.0C1053.6 615.2 1055.2 619.6 1055.7 621.2" fill="none" stroke="#d21c4e" stroke-width="1.6" stroke-linejoin="round"/>
<path d="M0.0 629.4C0.8 628.6 3.1 625.0 5.0 624.4C6.9 623.9 9.2 627.0 11.3 626.2C13.4 625.3 15.4 621.8 17.5 619.5C19.6 617.1 21.9 614.0 23.8 611.9C25.7 609.8 27.1 607.1 28.8 606.9C30.5 606.7 31.9 609.0 33.8 610.6C35.7 612.3 38.0 614.4 40.1 616.9C42.2 619.4 44.3 622.0 46.4 625.8C48.5 629.5 50.3 635.2 52.6 639.4C54.9 643.6 57.7 647.5 60.2 650.8C62.7 654.2 65.6 658.7 67.7 659.5C69.8 660.3 71.0 658.6 72.7 655.7C74.4 652.8 76.0 647.8 77.7 641.9C79.4 636.1 81.0 627.6 82.7 620.7C84.4 613.8 86.0 605.3 87.7 600.7C89.4 596.1 90.6 594.7 92.7 593.1C94.8 591.5 97.8 591.6 100.3 591.1C102.8 590.6 105.7 589.0 107.8 590.1C109.9 591.3 110.9 594.1 112.8 598.2C114.7 602.2 116.9 609.3 119.0 614.3C121.1 619.3 123.2 623.7 125.3 628.2C127.4 632.6 129.7 637.7 131.6 640.7C133.5 643.8 134.9 645.2 136.6 646.2C138.3 647.3 139.7 646.2 141.6 647.0C143.5 647.7 145.8 649.3 147.9 650.8C150.0 652.2 152.2 654.5 154.1 655.7C156.0 657.0 157.6 656.8 159.1 658.2C160.6 659.7 161.6 662.5 162.9 664.5C164.2 666.5 165.7 670.3 167.2 670.3C168.7 670.2 169.9 667.3 171.7 664.5C173.5 661.7 176.0 656.5 177.9 653.3C179.8 650.2 181.5 647.3 183.0 645.7C184.5 644.1 185.4 642.7 186.7 643.7C187.9 644.8 189.0 649.0 190.5 652.0C192.0 655.1 193.7 659.5 195.5 662.0C197.3 664.6 199.4 667.7 201.3 667.5C203.2 667.3 204.9 664.3 206.8 660.7C208.8 657.1 211.1 650.0 213.0 645.8C214.9 641.7 216.4 638.0 218.0 635.8C219.6 633.6 220.9 632.5 222.6 632.7C224.3 632.9 226.3 635.0 228.1 637.0C229.8 639.0 231.6 641.0 233.1 644.5C234.6 648.1 235.6 652.9 236.8 658.1C238.1 663.3 239.1 669.5 240.6 675.8C242.1 682.1 243.9 689.1 245.6 695.8C247.3 702.5 249.1 710.6 250.6 715.8C252.1 721.0 253.2 724.6 254.4 727.2C255.7 729.8 256.9 731.9 258.1 731.6C259.4 731.4 260.6 730.3 261.9 725.9C263.2 721.6 264.4 712.7 265.7 705.7C266.9 698.6 268.1 689.3 269.4 683.5C270.6 677.7 271.9 673.5 273.2 670.8C274.4 668.0 275.4 666.9 276.9 667.1C278.4 667.3 280.3 670.4 282.0 672.1C283.7 673.8 285.3 675.8 287.0 677.1C288.7 678.3 290.3 679.2 292.0 679.6C293.7 680.0 295.7 679.1 297.0 679.6C298.3 680.1 299.2 681.7 300.0 682.6C300.8 683.5 301.2 683.4 302.0 684.9C302.8 686.3 304.2 689.4 305.0 691.1C305.8 692.9 306.2 693.7 307.0 695.6C307.8 697.5 308.9 700.2 310.0 702.6C311.1 704.9 312.6 707.8 313.8 709.7C315.1 711.6 316.2 714.1 317.5 713.9C318.8 713.6 319.8 710.8 321.3 708.4C322.8 706.0 324.8 700.7 326.3 699.6C327.8 698.6 328.9 701.7 330.1 702.1C331.4 702.5 332.6 703.8 333.8 702.1C335.1 700.4 336.3 696.5 337.6 692.1C338.9 687.6 340.1 682.0 341.4 675.5C342.6 669.1 343.9 660.8 345.1 653.3C346.4 645.8 347.6 636.8 348.9 630.6C350.1 624.3 351.4 619.9 352.6 615.8C353.9 611.6 355.1 607.8 356.4 605.6C357.7 603.4 358.9 601.6 360.2 602.5C361.4 603.3 362.6 606.7 363.9 610.6C365.1 614.5 366.4 620.6 367.7 625.8C368.9 631.0 370.1 637.5 371.4 641.8C372.6 646.2 373.7 648.9 375.2 652.0C376.7 655.2 378.3 658.3 380.2 660.8C382.1 663.3 384.8 667.0 386.5 667.0C388.2 667.0 388.8 663.9 390.2 660.8C391.6 657.7 393.7 651.5 395.2 648.3C396.7 645.2 397.5 643.3 399.0 642.0C400.5 640.6 402.1 640.6 404.0 640.2C405.9 639.8 408.6 639.2 410.3 639.5C412.0 639.8 412.6 640.8 414.0 641.9C415.4 643.1 417.1 644.9 419.0 646.2C420.9 647.4 423.4 649.5 425.3 649.5C427.2 649.5 428.8 647.4 430.3 646.2C431.8 645.1 432.6 642.5 434.1 642.5C435.6 642.5 437.6 644.4 439.1 646.2C440.6 648.1 441.6 649.8 442.9 653.4C444.1 657.1 445.4 663.2 446.6 668.2C447.9 673.2 449.1 679.4 450.4 683.4C451.6 687.3 452.8 690.0 454.1 692.0C455.4 694.0 456.9 695.6 458.4 695.4C459.9 695.1 461.3 692.6 462.9 690.4C464.5 688.1 466.2 685.4 467.9 682.1C469.6 678.9 471.2 675.2 472.9 670.9C474.6 666.5 476.2 661.6 477.9 655.9C479.6 650.2 481.3 642.3 483.0 636.8C484.7 631.4 486.3 626.9 488.0 623.1C489.7 619.4 491.3 617.5 493.0 614.4C494.7 611.2 496.3 607.5 498.0 604.4C499.7 601.2 501.3 598.0 503.0 595.6C504.7 593.2 506.3 592.3 508.0 590.1C509.7 587.9 511.3 584.1 513.0 582.6C514.7 581.1 516.1 580.6 518.0 581.1C519.9 581.6 522.4 585.0 524.3 585.6C526.2 586.1 527.6 584.7 529.3 584.3C531.0 584.0 532.4 583.4 534.3 583.6C536.2 583.8 538.7 584.6 540.6 585.6C542.5 586.5 543.9 586.8 545.6 589.3C547.3 591.8 548.9 596.6 550.6 600.6C552.3 604.5 553.9 608.9 555.6 613.1C557.3 617.3 559.0 622.3 560.7 625.8C562.4 629.2 564.2 632.1 565.7 633.7C567.2 635.3 568.0 635.5 569.4 635.2C570.8 634.9 572.7 633.1 574.4 632.0C576.1 630.8 577.7 629.7 579.4 628.2C581.1 626.8 582.8 624.5 584.5 623.2C586.2 621.8 587.8 620.0 589.5 620.2C591.2 620.4 592.8 621.9 594.5 624.5C596.2 627.0 598.0 632.4 599.5 635.7C601.0 639.1 602.2 642.6 603.3 644.6C604.4 646.5 604.8 646.9 606.3 647.4C607.8 647.9 610.8 648.2 612.5 647.5C614.2 646.8 615.0 647.3 616.3 643.2C617.6 639.1 618.9 630.0 620.1 622.9C621.4 615.8 622.5 607.1 623.8 600.7C625.0 594.2 626.4 588.2 627.6 584.3C628.9 580.3 629.8 578.3 631.3 576.9C632.8 575.4 634.6 575.2 636.3 575.6C638.0 576.0 639.7 578.6 641.4 579.3C643.1 580.1 644.7 579.8 646.4 580.1C648.1 580.4 649.7 580.3 651.4 581.1C653.1 581.9 654.5 584.1 656.4 585.1C658.3 586.0 660.8 586.7 662.7 586.8C664.6 587.0 666.0 585.3 667.7 586.1C669.4 587.0 671.0 589.1 672.7 591.9C674.4 594.7 676.0 599.6 677.7 603.1C679.4 606.7 681.0 610.0 682.7 613.1C684.4 616.3 686.4 620.0 687.7 621.9C689.0 623.8 689.7 624.8 690.7 624.4C691.8 624.0 692.6 621.7 694.0 619.4C695.4 617.1 697.3 613.3 699.0 610.6C700.7 607.9 702.5 605.5 704.0 603.1C705.5 600.8 706.5 599.7 707.8 596.8C709.0 593.9 710.2 589.2 711.5 585.7C712.8 582.1 714.0 578.3 715.3 575.5C716.6 572.7 718.0 569.8 719.5 568.9C721.0 568.0 722.5 569.4 724.1 570.1C725.7 570.7 727.4 571.2 729.1 572.6C730.8 573.9 732.4 575.3 734.1 578.1C735.8 580.9 737.4 585.2 739.1 589.3C740.8 593.5 742.6 598.7 744.1 603.1C745.6 607.5 746.6 612.0 747.9 615.7C749.1 619.5 750.4 623.2 751.6 625.6C752.9 628.0 753.9 629.7 755.4 629.9C756.9 630.2 758.5 628.1 760.4 626.9C762.3 625.7 764.6 624.1 766.7 622.7C768.8 621.2 771.0 620.2 772.9 618.2C774.8 616.2 776.2 613.0 777.9 610.7C779.6 608.4 781.3 605.7 783.0 604.4C784.7 603.0 786.3 602.8 788.0 602.6C789.7 602.5 791.3 603.3 793.0 603.6C794.7 603.9 796.1 604.9 798.0 604.4C799.9 603.9 802.4 601.0 804.3 600.6C806.2 600.3 807.6 601.7 809.3 602.4C811.0 603.1 812.6 604.4 814.3 604.9C816.0 605.3 817.6 606.3 819.3 605.1C821.0 604.0 822.6 600.8 824.3 598.1C826.0 595.5 827.6 591.5 829.3 589.4C831.0 587.3 832.8 585.9 834.3 585.6C835.8 585.3 836.6 585.7 838.1 587.6C839.6 589.5 841.4 594.3 843.1 596.8C844.8 599.4 846.4 601.3 848.1 603.1C849.8 604.9 851.4 607.6 853.1 607.6C854.8 607.6 856.4 604.4 858.1 603.2C859.8 601.9 861.7 600.4 863.2 600.1C864.7 599.9 865.6 600.1 866.9 601.9C868.1 603.6 869.2 607.1 870.7 610.7C872.2 614.3 874.2 619.5 875.7 623.2C877.2 626.9 878.1 628.1 879.4 633.1C880.6 638.1 882.1 647.4 883.2 653.2C884.3 659.0 884.9 662.9 886.0 668.0C887.1 673.1 888.5 679.6 889.8 683.7C891.0 687.8 892.5 690.6 893.5 692.7C894.5 694.8 894.9 695.1 895.7 696.3C896.5 697.4 897.6 698.8 898.5 699.7C899.4 700.7 900.0 701.3 900.8 701.9C901.6 702.5 902.4 704.0 903.5 703.6C904.6 703.2 906.0 701.7 907.3 699.6C908.6 697.6 910.0 694.1 911.1 691.2C912.2 688.2 913.2 684.7 914.0 682.2C914.8 679.6 914.9 679.3 916.1 675.7C917.3 672.2 919.4 664.9 921.1 660.7C922.8 656.6 924.4 653.2 926.1 650.7C927.8 648.3 929.4 647.2 931.1 646.2C932.8 645.3 934.4 645.7 936.1 645.2C937.8 644.8 939.4 642.8 941.1 643.7C942.8 644.7 944.5 648.5 946.2 650.8C947.9 653.2 949.5 656.0 951.2 657.8C952.9 659.5 954.5 659.9 956.2 661.3C957.9 662.7 959.5 665.3 961.2 666.3C962.9 667.2 964.5 667.5 966.2 667.0C967.9 666.5 969.5 664.7 971.2 663.3C972.9 661.8 974.5 660.8 976.2 658.3C977.9 655.8 979.5 651.7 981.2 648.3C982.9 645.0 984.6 641.3 986.3 638.1C988.0 635.0 989.6 631.9 991.3 629.4C993.0 626.9 994.8 624.4 996.3 623.2C997.8 621.9 998.8 621.5 1000.0 621.9C1001.2 622.4 1002.3 624.1 1003.8 625.7C1005.3 627.2 1007.1 629.8 1008.8 631.2C1010.5 632.6 1012.3 633.8 1013.8 633.9C1015.3 634.1 1016.4 633.5 1017.6 631.9C1018.9 630.3 1020.0 627.0 1021.3 624.5C1022.5 622.0 1023.6 619.3 1025.1 616.9C1026.6 614.5 1028.4 612.0 1030.1 610.2C1031.8 608.3 1033.4 607.4 1035.1 605.7C1036.8 603.9 1038.4 601.5 1040.1 599.9C1041.8 598.3 1043.6 596.7 1045.1 596.1C1046.6 595.6 1047.6 596.1 1048.9 596.9C1050.2 597.6 1051.6 599.0 1052.7 600.7C1053.8 602.4 1055.2 605.9 1055.7 606.9" fill="none" stroke="#b6eeae" stroke-width="1.3" stroke-linejoin="round"/>
<line x1="903" y1="709.1" x2="1119.8" y2="584.3" stroke="#b4d2f8" stroke-width="1.3"/>
</g>
<g fill="#aee6ff" shape-rendering="crispEdges">
<rect x="1" y="555" width="1252" height="1"/>
<rect x="1" y="748" width="1252" height="1"/>
<rect x="1" y="763" width="1199" height="1"/>
<rect x="1200" y="1" width="1" height="776"/>
<rect x="217" y="748" width="1" height="16"/>
<rect x="612" y="748" width="1" height="16"/>
<rect x="1014" y="748" width="1" height="16"/>
<rect x="1201" y="4" width="2" height="1"/>
<rect x="1201" y="10" width="2" height="1"/>
<rect x="1201" y="16" width="2" height="1"/>
<rect x="1201" y="22" width="2" height="1"/>
<rect x="1201" y="28" width="2" height="1"/>
<rect x="1201" y="34" width="5" height="1"/>
<rect x="1201" y="40" width="2" height="1"/>
<rect x="1201" y="46" width="2" height="1"/>
<rect x="1201" y="52" width="2" height="1"/>
<rect x="1201" y="58" width="2" height="1"/>
<rect x="1201" y="64" width="2" height="1"/>
<rect x="1201" y="70" width="2" height="1"/>
<rect x="1201" y="76" width="2" height="1"/>
<rect x="1201" y="82" width="2" height="1"/>
<rect x="1201" y="88" width="2" height="1"/>
<rect x="1201" y="94" width="5" height="1"/>
<rect x="1201" y="100" width="2" height="1"/>
<rect x="1201" y="106" width="2" height="1"/>
<rect x="1201" y="111" width="2" height="1"/>
<rect x="1201" y="117" width="2" height="1"/>
<rect x="1201" y="123" width="2" height="1"/>
<rect x="1201" y="129" width="2" height="1"/>
<rect x="1201" y="135" width="2" height="1"/>
<rect x="1201" y="141" width="2" height="1"/>
<rect x="1201" y="147" width="2" height="1"/>
<rect x="1201" y="153" width="5" height="1"/>
<rect x="1201" y="159" width="2" height="1"/>
<rect x="1201" y="165" width="2" height="1"/>
<rect x="1201" y="171" width="2" height="1"/>
<rect x="1201" y="177" width="2" height="1"/>
<rect x="1201" y="183" width="2" height="1"/>
<rect x="1201" y="189" width="2" height="1"/>
<rect x="1201" y="195" width="2" height="1"/>
<rect x="1201" y="201" width="2" height="1"/>
<rect x="1201" y="207" width="2" height="1"/>
<rect x="1201" y="213" width="5" height="1"/>
<rect x="1201" y="219" width="2" height="1"/>
<rect x="1201" y="225" width="2" height="1"/>
<rect x="1201" y="231" width="2" height="1"/>
<rect x="1201" y="237" width="2" height="1"/>
<rect x="1201" y="243" width="2" height="1"/>
<rect x="1201" y="249" width="2" height="1"/>
<rect x="1201" y="255" width="2" height="1"/>
<rect x="1201" y="260" width="2" height="1"/>
<rect x="1201" y="266" width="2" height="1"/>
<rect x="1201" y="272" width="5" height="1"/>
<rect x="1201" y="278" width="2" height="1"/>
<rect x="1201" y="284" width="2" height="1"/>
<rect x="1201" y="290" width="2" height="1"/>
<rect x="1201" y="296" width="2" height="1"/>
<rect x="1201" y="302" width="2" height="1"/>
<rect x="1201" y="308" width="2" height="1"/>
<rect x="1201" y="314" width="2" height="1"/>
<rect x="1201" y="320" width="2" height="1"/>
<rect x="1201" y="326" width="2" height="1"/>
<rect x="1201" y="332" width="5" height="1"/>
<rect x="1201" y="338" width="2" height="1"/>
<rect x="1201" y="344" width="2" height="1"/>
<rect x="1201" y="350" width="2" height="1"/>
<rect x="1201" y="356" width="2" height="1"/>
<rect x="1201" y="362" width="2" height="1"/>
<rect x="1201" y="368" width="2" height="1"/>
<rect x="1201" y="374" width="2" height="1"/>
<rect x="1201" y="380" width="2" height="1"/>
<rect x="1201" y="386" width="2" height="1"/>
<rect x="1201" y="392" width="5" height="1"/>
<rect x="1201" y="398" width="2" height="1"/>
<rect x="1201" y="404" width="2" height="1"/>
<rect x="1201" y="409" width="2" height="1"/>
<rect x="1201" y="415" width="2" height="1"/>
<rect x="1201" y="421" width="2" height="1"/>
<rect x="1201" y="427" width="2" height="1"/>
<rect x="1201" y="433" width="2" height="1"/>
<rect x="1201" y="439" width="2" height="1"/>
<rect x="1201" y="445" width="2" height="1"/>
<rect x="1201" y="451" width="5" height="1"/>
<rect x="1201" y="457" width="2" height="1"/>
<rect x="1201" y="463" width="2" height="1"/>
<rect x="1201" y="469" width="2" height="1"/>
<rect x="1201" y="475" width="2" height="1"/>
<rect x="1201" y="481" width="2" height="1"/>
<rect x="1201" y="487" width="2" height="1"/>
<rect x="1201" y="493" width="2" height="1"/>
<rect x="1201" y="499" width="2" height="1"/>
<rect x="1201" y="505" width="2" height="1"/>
<rect x="1201" y="511" width="5" height="1"/>
<rect x="1201" y="517" width="2" height="1"/>
<rect x="1201" y="523" width="2" height="1"/>
<rect x="1201" y="529" width="2" height="1"/>
<rect x="1201" y="535" width="2" height="1"/>
<rect x="1201" y="541" width="2" height="1"/>
<rect x="1201" y="547" width="2" height="1"/>
<rect x="1201" y="557" width="2" height="1"/>
<rect x="1201" y="561" width="2" height="1"/>
<rect x="1201" y="565" width="2" height="1"/>
<rect x="1201" y="569" width="2" height="1"/>
<rect x="1201" y="574" width="2" height="1"/>
<rect x="1201" y="578" width="2" height="1"/>
<rect x="1201" y="582" width="2" height="1"/>
<rect x="1201" y="586" width="5" height="1"/>
<rect x="1201" y="590" width="2" height="1"/>
<rect x="1201" y="594" width="2" height="1"/>
<rect x="1201" y="599" width="2" height="1"/>
<rect x="1201" y="603" width="2" height="1"/>
<rect x="1201" y="607" width="2" height="1"/>
<rect x="1201" y="611" width="2" height="1"/>
<rect x="1201" y="615" width="2" height="1"/>
<rect x="1201" y="619" width="2" height="1"/>
<rect x="1201" y="624" width="2" height="1"/>
<rect x="1201" y="628" width="5" height="1"/>
<rect x="1201" y="632" width="2" height="1"/>
<rect x="1201" y="636" width="2" height="1"/>
<rect x="1201" y="640" width="2" height="1"/>
<rect x="1201" y="644" width="2" height="1"/>
<rect x="1201" y="648" width="2" height="1"/>
<rect x="1201" y="653" width="2" height="1"/>
<rect x="1201" y="657" width="2" height="1"/>
<rect x="1201" y="661" width="2" height="1"/>
<rect x="1201" y="665" width="2" height="1"/>
<rect x="1201" y="669" width="5" height="1"/>
<rect x="1201" y="673" width="2" height="1"/>
<rect x="1201" y="678" width="2" height="1"/>
<rect x="1201" y="682" width="2" height="1"/>
<rect x="1201" y="686" width="2" height="1"/>
<rect x="1201" y="690" width="2" height="1"/>
<rect x="1201" y="694" width="2" height="1"/>
<rect x="1201" y="698" width="2" height="1"/>
<rect x="1201" y="703" width="2" height="1"/>
<rect x="1201" y="707" width="2" height="1"/>
<rect x="1201" y="711" width="5" height="1"/>
<rect x="1201" y="715" width="2" height="1"/>
<rect x="1201" y="719" width="2" height="1"/>
<rect x="1201" y="723" width="2" height="1"/>
<rect x="1201" y="728" width="2" height="1"/>
<rect x="1201" y="732" width="2" height="1"/>
<rect x="1201" y="736" width="2" height="1"/>
<rect x="1201" y="740" width="2" height="1"/>
<rect x="1201" y="744" width="2" height="1"/>
</g>
<g font-size="10.67" fill="#c4eaff">
<text x="1209" y="38.9">1.36000</text>
<text x="1209" y="98.5">1.34000</text>
<text x="1209" y="158.1">1.32000</text>
<text x="1209" y="217.7">1.30000</text>
<text x="1209" y="277.3">1.28000</text>
<text x="1209" y="336.9">1.26000</text>
<text x="1209" y="396.5">1.24000</text>
<text x="1209" y="456.1">1.22000</text>
<text x="1209" y="515.7">1.20000</text>
<text x="1209" y="591.2">0.0050</text>
<text x="1209" y="632.0">0.0000</text>
<text x="1209" y="674.4">-0.0050</text>
<text x="1209" y="716.0">-0.0100</text>
</g>
<g font-size="11" fill="#c4eaff">
<text x="107.5" y="760" text-anchor="middle">03</text>
<text x="414" y="760" text-anchor="middle">05</text>
<text x="812.5" y="760" text-anchor="middle">07</text>
<text x="1018" y="760">09</text>
<text x="587.5" y="775">2010</text>
</g>
<g shape-rendering="crispEdges">
<rect x="1200.5" y="279.5" width="47" height="17" fill="#fff5dc" stroke="#aee6ff"/>
<rect x="1200.5" y="224.5" width="47" height="17" fill="#fff5dc" stroke="#c81e1e"/>
<rect x="1200.5" y="272.5" width="47" height="17" fill="#fff5dc" stroke="#c81e1e"/>
</g>
<g font-size="10.67" fill="#c81e1e">
<text x="1205" y="237">1.29336</text>
<text x="1205" y="285">1.27723</text>
</g>
<rect x="26.5" y="4" width="15.2" height="12.6" fill="#f6fbee"/>
<text x="34.1" y="14" font-size="10.2" font-weight="bold" fill="#2f7f1a" stroke="#2f7f1a" stroke-width="0.25" text-anchor="middle">FX</text>
<g font-size="11">
<text x="43" y="14" fill="#c4eaff">EURUSD 4 Hours</text>
<text x="149" y="14" fill="#1fd048">MA 200</text>
<text x="205.4" y="14" fill="#e0202e" textLength="32.6" lengthAdjust="spacingAndGlyphs">MA 55</text>
<text x="256" y="14" fill="#c4eaff">MA 21</text>
<text x="27" y="568" fill="#b4e6b4">MACD 26; 12; 9</text>
</g>
<path d="M133.0 8.5 h6.6 l-3.3 3.6z" fill="#d4ecff"/>
<path d="M189.5 8.5 h6.6 l-3.3 3.6z" fill="#1fd048"/>
<path d="M239.5 8.5 h6.6 l-3.3 3.6z" fill="#e0202e"/>
<path d="M290.0 8.5 h6.6 l-3.3 3.6z" fill="#d4ecff"/>
<path d="M107.0 563.0 h6.6 l-3.3 3.6z" fill="#b4e6b4"/>
<g shape-rendering="crispEdges" fill="none" stroke="#d4ecff"><rect x="1172.5" y="4.5" width="10" height="8"/><line x1="1172" y1="5.5" x2="1183" y2="5.5"/></g>
<g shape-rendering="crispEdges" fill="none" stroke="#d4ecff"><rect x="1172.5" y="559.5" width="10" height="8"/><line x1="1172" y1="560.5" x2="1183" y2="560.5"/></g>
<path d="M1188.8 560 l7.6 7.6 M1196.4 560 l-7.6 7.6" stroke="#e8f4ff" stroke-width="2" fill="none"/>
</svg>
</body></html>
